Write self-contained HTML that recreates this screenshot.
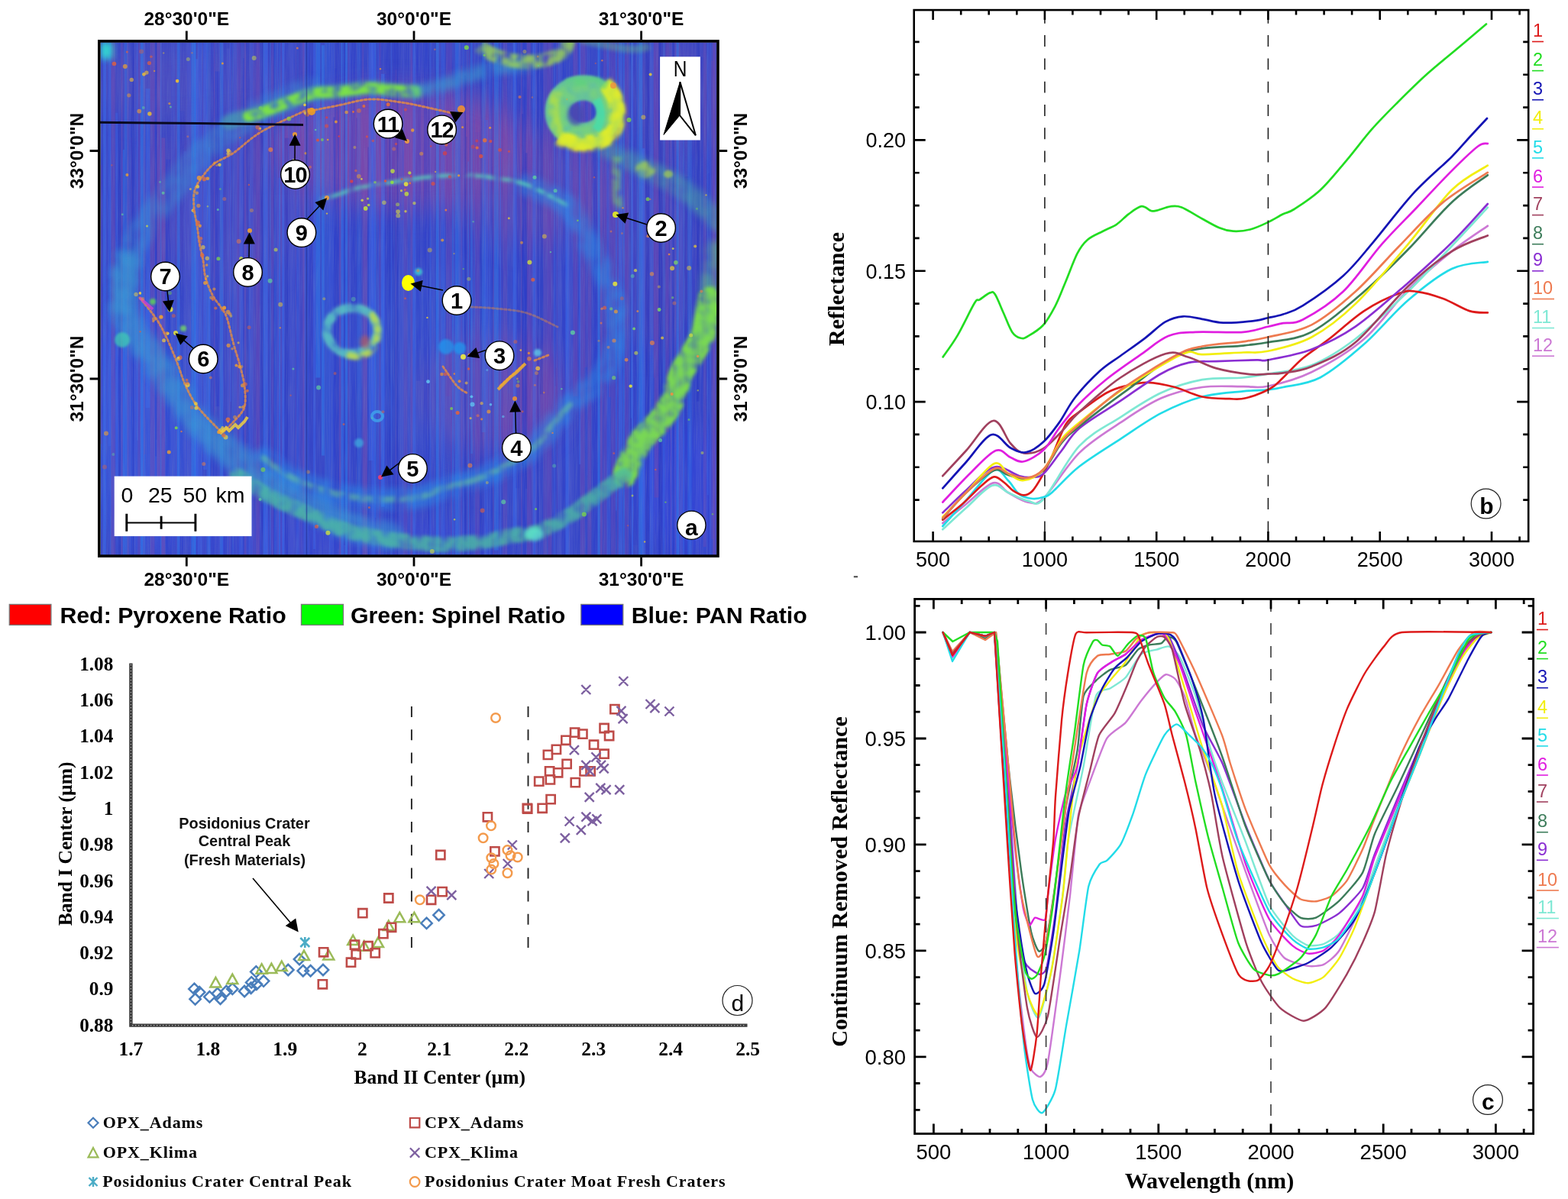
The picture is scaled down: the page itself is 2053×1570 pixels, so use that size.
<!DOCTYPE html>
<html><head><meta charset="utf-8"><title>Posidonius crater spectral analysis</title>
<style>html,body{margin:0;padding:0;background:#fff;}body{width:2053px;height:1570px;overflow:hidden;position:relative;}svg{position:absolute;left:0;top:0;display:block;}</style>
</head><body>
<svg width="2053" height="1570" viewBox="0 0 2053 1570">
<rect width="2053" height="1570" fill="#fff"/>
<rect x="1117.8" y="754.1" width="5.2" height="2.2" fill="#555"/>
<defs>
<clipPath id="mclip"><rect x="131.5" y="55.2" width="807.0" height="671.8"/></clipPath>
<filter id="bl1" filterUnits="userSpaceOnUse" x="100" y="30" width="880" height="730"><feGaussianBlur stdDeviation="0.7"/></filter>
<filter id="bl2" filterUnits="userSpaceOnUse" x="100" y="30" width="880" height="730"><feGaussianBlur stdDeviation="1.6"/></filter>
<filter id="bl3" filterUnits="userSpaceOnUse" x="100" y="30" width="880" height="730"><feGaussianBlur stdDeviation="2.4000000000000004"/></filter>
<filter id="bl5" filterUnits="userSpaceOnUse" x="100" y="30" width="880" height="730"><feGaussianBlur stdDeviation="4.0"/></filter>
<filter id="bl8" filterUnits="userSpaceOnUse" x="100" y="30" width="880" height="730"><feGaussianBlur stdDeviation="6.4"/></filter>
<filter id="bl14" filterUnits="userSpaceOnUse" x="100" y="30" width="880" height="730"><feGaussianBlur stdDeviation="11.200000000000001"/></filter>
<filter id="bl22" filterUnits="userSpaceOnUse" x="100" y="30" width="880" height="730"><feGaussianBlur stdDeviation="17.6"/></filter>
<filter id="noise" x="0" y="0" width="100%" height="100%"><feTurbulence type="fractalNoise" baseFrequency="0.9 0.02" numOctaves="2" seed="4"/><feColorMatrix type="matrix" values="0 0 0 0 0.15  0 0 0 0 0.2  0 0 0 0 0.55  0 0 0 1.1 -0.45"/></filter>
<filter id="speck" x="0" y="0" width="100%" height="100%"><feTurbulence type="fractalNoise" baseFrequency="0.35" numOctaves="1" seed="9"/><feColorMatrix type="matrix" values="0 0 0 0 0.5  0 0 0 0 0.5  0 0 0 0 1  0 0 0 1.6 -0.75"/></filter>
<filter id="blobby" filterUnits="userSpaceOnUse" x="100" y="30" width="880" height="730"><feTurbulence type="fractalNoise" baseFrequency="0.085" numOctaves="2" seed="3" result="n"/><feColorMatrix in="n" type="matrix" values="0 0 0 0 0  0 0 0 0 0  0 0 0 0 0  3.2 0 0 0 -0.85" result="m"/><feComposite in="SourceGraphic" in2="m" operator="in" result="t"/><feGaussianBlur in="t" stdDeviation="2.2"/></filter>
<filter id="blobby2" filterUnits="userSpaceOnUse" x="100" y="30" width="880" height="730"><feTurbulence type="fractalNoise" baseFrequency="0.06" numOctaves="3" seed="11" result="n"/><feColorMatrix in="n" type="matrix" values="0 0 0 0 0  0 0 0 0 0  0 0 0 0 0  3 0 0 0 -0.7" result="m"/><feComposite in="SourceGraphic" in2="m" operator="in" result="t"/><feGaussianBlur in="t" stdDeviation="4"/></filter>
</defs>
<g clip-path="url(#mclip)">
<rect x="131.5" y="55.2" width="807.0" height="671.8" fill="#3848c8"/>
<ellipse cx="525" cy="195" rx="175" ry="80" fill="#8e48a4" opacity="0.75" filter="url(#bl22)"/>
<ellipse cx="700" cy="250" rx="110" ry="70" fill="#7a4eaa" opacity="0.5" filter="url(#bl22)"/>
<ellipse cx="645" cy="515" rx="100" ry="75" fill="#8046a6" opacity="0.65" filter="url(#bl22)"/>
<ellipse cx="850" cy="330" rx="70" ry="130" fill="#6a4eb0" opacity="0.4" filter="url(#bl22)"/>
<ellipse cx="250" cy="110" rx="130" ry="50" fill="#6a58b8" opacity="0.35" filter="url(#bl22)"/>
<ellipse cx="300" cy="260" rx="110" ry="110" fill="#6e4eb0" opacity="0.35" filter="url(#bl22)"/>
<ellipse cx="185" cy="560" rx="70" ry="170" fill="#3a62e6" opacity="0.55" filter="url(#bl22)"/>
<ellipse cx="895" cy="640" rx="60" ry="90" fill="#3a4ee6" opacity="0.5" filter="url(#bl22)"/>
<ellipse cx="560" cy="470" rx="110" ry="120" fill="#3e62d6" opacity="0.35" filter="url(#bl22)"/>
<ellipse cx="300" cy="440" rx="60" ry="120" fill="#5a5ac0" opacity="0.3" filter="url(#bl22)"/>
<ellipse cx="880" cy="130" rx="70" ry="80" fill="#6a4eae" opacity="0.4" filter="url(#bl22)"/>
<ellipse cx="420" cy="705" rx="250" ry="30" fill="#3c4cd8" opacity="0.4" filter="url(#bl14)"/>
<g><path d="M132.5 215.9 V581.3" stroke="#6a44b4" stroke-width="2" opacity="0.3"/><path d="M134.7 55.2 V589.2" stroke="#2434c0" stroke-width="1.5" opacity="0.2"/><path d="M136.9 55.2 V727" stroke="#3a70f0" stroke-width="4" opacity="0.5"/><path d="M139.5 157.7 V622.2" stroke="#4a58d0" stroke-width="4" opacity="0.2"/><path d="M143.4 55.2 V584.2" stroke="#3a64e8" stroke-width="4" opacity="0.4"/><path d="M144.8 55.2 V727" stroke="#3a70f0" stroke-width="1" opacity="0.4"/><path d="M148.3 55.2 V727" stroke="#7a4cb0" stroke-width="6" opacity="0.4"/><path d="M150.7 55.2 V727" stroke="#2a3ccc" stroke-width="1.5" opacity="0.2"/><path d="M152.7 147.8 V641.5" stroke="#3a64e8" stroke-width="3" opacity="0.4"/><path d="M156.5 158 V727" stroke="#2434c0" stroke-width="3" opacity="0.5"/><path d="M159.5 55.2 V727" stroke="#7a4cb0" stroke-width="2" opacity="0.4"/><path d="M161.9 196.1 V727" stroke="#2c80f0" stroke-width="2" opacity="0.4"/><path d="M165.4 55.2 V727" stroke="#2c80f0" stroke-width="5" opacity="0.3"/><path d="M167.5 48.2 V727" stroke="#7a4cb0" stroke-width="3" opacity="0.3"/><path d="M168.8 55.2 V614.7" stroke="#4a58d0" stroke-width="1.5" opacity="0.3"/><path d="M170.3 126.6 V727" stroke="#4a58d0" stroke-width="1.5" opacity="0.5"/><path d="M172.1 180.1 V519.2" stroke="#6a44b4" stroke-width="1.5" opacity="0.2"/><path d="M173.4 55.2 V727" stroke="#2434c0" stroke-width="2" opacity="0.3"/><path d="M174.8 55.2 V727" stroke="#2434c0" stroke-width="1.5" opacity="0.4"/><path d="M177.7 55.2 V727" stroke="#4a58d0" stroke-width="4" opacity="0.3"/><path d="M180 55.2 V576.8" stroke="#3a70f0" stroke-width="1.5" opacity="0.5"/><path d="M182.2 55.2 V727" stroke="#6a44b4" stroke-width="4" opacity="0.4"/><path d="M183.6 111.6 V727" stroke="#4a58d0" stroke-width="1.5" opacity="0.3"/><path d="M186.9 55.2 V727" stroke="#2c80f0" stroke-width="6" opacity="0.5"/><path d="M188.3 55.2 V727" stroke="#7a4cb0" stroke-width="1" opacity="0.5"/><path d="M189.5 55.2 V595" stroke="#7a4cb0" stroke-width="1.5" opacity="0.3"/><path d="M193.7 115.9 V534" stroke="#3a70f0" stroke-width="6" opacity="0.4"/><path d="M199.5 55.2 V727" stroke="#7a4cb0" stroke-width="6" opacity="0.4"/><path d="M204.1 55.2 V597.6" stroke="#2a3ccc" stroke-width="1.5" opacity="0.5"/><path d="M205.1 55.2 V575.7" stroke="#2434c0" stroke-width="1" opacity="0.5"/><path d="M208.4 55.2 V670.3" stroke="#7a4cb0" stroke-width="6" opacity="0.5"/><path d="M210.6 55.2 V727" stroke="#2c80f0" stroke-width="1.5" opacity="0.4"/><path d="M213.8 180.5 V727" stroke="#7a4cb0" stroke-width="5" opacity="0.5"/><path d="M220 208.8 V727" stroke="#2a3ccc" stroke-width="6" opacity="0.4"/><path d="M226.5 55.2 V687.3" stroke="#4a58d0" stroke-width="5" opacity="0.4"/><path d="M230.9 55.2 V727" stroke="#6a44b4" stroke-width="1" opacity="0.4"/><path d="M233.5 55.2 V727" stroke="#2c80f0" stroke-width="4" opacity="0.4"/><path d="M234.7 55.2 V727" stroke="#3a70f0" stroke-width="1" opacity="0.4"/><path d="M238.4 145.5 V727" stroke="#2a3ccc" stroke-width="6" opacity="0.2"/><path d="M242.4 198 V727" stroke="#4a58d0" stroke-width="4" opacity="0.5"/><path d="M247.7 55.2 V689" stroke="#4a58d0" stroke-width="6" opacity="0.5"/><path d="M253.4 55.2 V727" stroke="#2c80f0" stroke-width="6" opacity="0.5"/><path d="M255.4 48.8 V727" stroke="#2c80f0" stroke-width="1.5" opacity="0.4"/><path d="M257.6 77.3 V702.6" stroke="#3a70f0" stroke-width="3" opacity="0.5"/><path d="M259.4 55.2 V727" stroke="#3a70f0" stroke-width="1" opacity="0.4"/><path d="M262.3 55.2 V727" stroke="#3a64e8" stroke-width="5" opacity="0.4"/><path d="M268.6 55.2 V615.1" stroke="#3a64e8" stroke-width="5" opacity="0.5"/><path d="M272.1 55.2 V727" stroke="#2c80f0" stroke-width="3" opacity="0.3"/><path d="M273.8 192.7 V727" stroke="#3a70f0" stroke-width="2" opacity="0.5"/><path d="M275 55.2 V727" stroke="#2c80f0" stroke-width="1.5" opacity="0.3"/><path d="M278.1 55.2 V727" stroke="#2a3ccc" stroke-width="5" opacity="0.3"/><path d="M280.6 55.2 V588.5" stroke="#7a4cb0" stroke-width="1.5" opacity="0.3"/><path d="M281.7 55.2 V727" stroke="#4a58d0" stroke-width="1" opacity="0.3"/><path d="M284.8 93.6 V532.3" stroke="#2a3ccc" stroke-width="6" opacity="0.5"/><path d="M287.3 55.2 V727" stroke="#4a58d0" stroke-width="1.5" opacity="0.5"/><path d="M289.9 47.9 V727" stroke="#2c80f0" stroke-width="4" opacity="0.4"/><path d="M292 55.2 V727" stroke="#3a64e8" stroke-width="1" opacity="0.5"/><path d="M295.1 55.2 V727" stroke="#2a3ccc" stroke-width="6" opacity="0.2"/><path d="M299.2 63.6 V727" stroke="#4a58d0" stroke-width="4" opacity="0.5"/><path d="M300.7 240.3 V727" stroke="#6a44b4" stroke-width="1" opacity="0.3"/><path d="M301.9 55.2 V526.1" stroke="#3a64e8" stroke-width="1.5" opacity="0.4"/><path d="M303.6 55.2 V727" stroke="#2434c0" stroke-width="1" opacity="0.2"/><path d="M304.8 55.2 V727" stroke="#2c80f0" stroke-width="1.5" opacity="0.2"/><path d="M308.5 55.2 V669.6" stroke="#4a58d0" stroke-width="6" opacity="0.5"/><path d="M312.5 55.2 V694.5" stroke="#6a44b4" stroke-width="5" opacity="0.3"/><path d="M315.7 181.6 V727" stroke="#3a64e8" stroke-width="5" opacity="0.4"/><path d="M319 76 V726.1" stroke="#2a3ccc" stroke-width="2" opacity="0.4"/><path d="M320.7 55.2 V727" stroke="#7a4cb0" stroke-width="2" opacity="0.3"/><path d="M321.9 55.2 V727" stroke="#7a4cb0" stroke-width="1" opacity="0.3"/><path d="M324.1 55.2 V580.3" stroke="#2434c0" stroke-width="4" opacity="0.2"/><path d="M326.6 245.9 V727" stroke="#3a64e8" stroke-width="2" opacity="0.4"/><path d="M329.5 55.2 V727" stroke="#4a58d0" stroke-width="5" opacity="0.5"/><path d="M333 55.2 V727" stroke="#6a44b4" stroke-width="4" opacity="0.2"/><path d="M337.7 55.2 V727" stroke="#6a44b4" stroke-width="5" opacity="0.5"/><path d="M341.5 175.4 V727" stroke="#2a3ccc" stroke-width="1" opacity="0.2"/><path d="M343.4 55.2 V727" stroke="#2434c0" stroke-width="3" opacity="0.4"/><path d="M345.2 55.2 V727" stroke="#2c80f0" stroke-width="1" opacity="0.5"/><path d="M348.2 55.2 V727" stroke="#3a70f0" stroke-width="5" opacity="0.5"/><path d="M352.4 55.2 V727" stroke="#2a3ccc" stroke-width="1.5" opacity="0.3"/><path d="M354 45.5 V727" stroke="#2c80f0" stroke-width="1" opacity="0.5"/><path d="M356.2 55.2 V727" stroke="#6a44b4" stroke-width="4" opacity="0.3"/><path d="M359.1 55.2 V727" stroke="#2434c0" stroke-width="1.5" opacity="0.4"/><path d="M360.1 55.2 V727" stroke="#2c80f0" stroke-width="1.5" opacity="0.3"/><path d="M361.2 139.2 V707.9" stroke="#2a3ccc" stroke-width="1" opacity="0.3"/><path d="M363.2 55.2 V727" stroke="#3a64e8" stroke-width="3" opacity="0.3"/><path d="M364.1 114.3 V727" stroke="#6a44b4" stroke-width="1" opacity="0.5"/><path d="M365.7 232.7 V727" stroke="#3a70f0" stroke-width="2" opacity="0.4"/><path d="M366.4 55.2 V727" stroke="#2c80f0" stroke-width="1" opacity="0.4"/><path d="M368.3 55.2 V727" stroke="#7a4cb0" stroke-width="3" opacity="0.2"/><path d="M370.8 37.8 V727" stroke="#3a70f0" stroke-width="3" opacity="0.5"/><path d="M372.1 55.2 V495.6" stroke="#4a58d0" stroke-width="1" opacity="0.3"/><path d="M375.8 180.8 V727" stroke="#2434c0" stroke-width="6" opacity="0.3"/><path d="M378 117.3 V727" stroke="#4a58d0" stroke-width="2" opacity="0.4"/><path d="M382.4 55.2 V727" stroke="#4a58d0" stroke-width="6" opacity="0.5"/><path d="M386.6 55.2 V727" stroke="#4a58d0" stroke-width="1" opacity="0.4"/><path d="M387.4 55.2 V663.1" stroke="#6a44b4" stroke-width="1" opacity="0.3"/><path d="M390.5 141.5 V727" stroke="#3a64e8" stroke-width="5" opacity="0.3"/><path d="M393.9 55.2 V727" stroke="#6a44b4" stroke-width="5" opacity="0.2"/><path d="M397.8 55.2 V678.9" stroke="#7a4cb0" stroke-width="3" opacity="0.5"/><path d="M399.3 55.2 V727" stroke="#3a70f0" stroke-width="2" opacity="0.3"/><path d="M400.3 55.2 V659.4" stroke="#4a58d0" stroke-width="1" opacity="0.3"/><path d="M402.4 55.2 V727" stroke="#3a64e8" stroke-width="3" opacity="0.4"/><path d="M406.8 55.2 V727" stroke="#2a3ccc" stroke-width="6" opacity="0.2"/><path d="M411.6 55.2 V718.9" stroke="#3a64e8" stroke-width="3" opacity="0.5"/><path d="M416.4 55.2 V494.4" stroke="#2c80f0" stroke-width="6" opacity="0.5"/><path d="M422.9 59.2 V596.4" stroke="#2c80f0" stroke-width="4" opacity="0.5"/><path d="M428.2 55.2 V695.6" stroke="#2c80f0" stroke-width="6" opacity="0.2"/><path d="M431.7 55.2 V727" stroke="#3a64e8" stroke-width="1" opacity="0.5"/><path d="M435.1 55.2 V727" stroke="#3a70f0" stroke-width="6" opacity="0.2"/><path d="M437.5 153.4 V727" stroke="#2a3ccc" stroke-width="2" opacity="0.5"/><path d="M439.1 89.6 V727" stroke="#2a3ccc" stroke-width="2" opacity="0.4"/><path d="M441.3 55.2 V727" stroke="#2434c0" stroke-width="2" opacity="0.2"/><path d="M443.1 55.2 V718.5" stroke="#2a3ccc" stroke-width="2" opacity="0.4"/><path d="M445.3 210.6 V727" stroke="#7a4cb0" stroke-width="3" opacity="0.4"/><path d="M447.4 55.2 V727" stroke="#2c80f0" stroke-width="1.5" opacity="0.5"/><path d="M448.5 244.6 V727" stroke="#3a64e8" stroke-width="1.5" opacity="0.5"/><path d="M449.6 55.2 V727" stroke="#2c80f0" stroke-width="1.5" opacity="0.3"/><path d="M451.4 55.2 V714" stroke="#2434c0" stroke-width="3" opacity="0.3"/><path d="M453.4 55.2 V727" stroke="#2c80f0" stroke-width="3" opacity="0.5"/><path d="M456.5 55.2 V727" stroke="#7a4cb0" stroke-width="1.5" opacity="0.3"/><path d="M458.2 55.2 V727" stroke="#4a58d0" stroke-width="2" opacity="0.5"/><path d="M459 55.2 V727" stroke="#3a64e8" stroke-width="1" opacity="0.2"/><path d="M462.5 55.2 V727" stroke="#2a3ccc" stroke-width="6" opacity="0.3"/><path d="M467 154.3 V727" stroke="#2434c0" stroke-width="1" opacity="0.4"/><path d="M469.8 55.2 V727" stroke="#2c80f0" stroke-width="5" opacity="0.2"/><path d="M473.5 237.6 V540.2" stroke="#4a58d0" stroke-width="1" opacity="0.2"/><path d="M475.2 55.2 V727" stroke="#7a4cb0" stroke-width="2" opacity="0.3"/><path d="M478.3 193.9 V727" stroke="#7a4cb0" stroke-width="5" opacity="0.5"/><path d="M482.1 192.6 V727" stroke="#2434c0" stroke-width="1" opacity="0.5"/><path d="M485.7 55.2 V602.9" stroke="#3a64e8" stroke-width="6" opacity="0.5"/><path d="M488.9 55.2 V727" stroke="#3a64e8" stroke-width="5" opacity="0.5"/><path d="M491.5 55.2 V677.7" stroke="#2c80f0" stroke-width="2" opacity="0.3"/><path d="M493.5 156.8 V727" stroke="#4a58d0" stroke-width="1.5" opacity="0.2"/><path d="M495.2 56.4 V727" stroke="#3a70f0" stroke-width="1" opacity="0.3"/><path d="M497.3 55.2 V727" stroke="#6a44b4" stroke-width="3" opacity="0.3"/><path d="M501.5 96.7 V663.5" stroke="#3a70f0" stroke-width="5" opacity="0.5"/><path d="M504.4 97.1 V727" stroke="#2a3ccc" stroke-width="3" opacity="0.3"/><path d="M505.6 151 V727" stroke="#4a58d0" stroke-width="1" opacity="0.3"/><path d="M507.3 55.2 V727" stroke="#2434c0" stroke-width="3" opacity="0.2"/><path d="M510.4 46.3 V727" stroke="#2434c0" stroke-width="2" opacity="0.5"/><path d="M512.5 55.2 V727" stroke="#3a70f0" stroke-width="1.5" opacity="0.3"/><path d="M515.9 55.2 V727" stroke="#2434c0" stroke-width="6" opacity="0.2"/><path d="M518.4 91.3 V727" stroke="#7a4cb0" stroke-width="2" opacity="0.2"/><path d="M520.3 55.2 V727" stroke="#2434c0" stroke-width="1.5" opacity="0.5"/><path d="M521.6 55.2 V727" stroke="#2a3ccc" stroke-width="1" opacity="0.2"/><path d="M525 152.7 V727" stroke="#4a58d0" stroke-width="6" opacity="0.4"/><path d="M528.2 55.2 V727" stroke="#4a58d0" stroke-width="2" opacity="0.5"/><path d="M531 203.9 V727" stroke="#7a4cb0" stroke-width="5" opacity="0.3"/><path d="M535.3 233.6 V727" stroke="#4a58d0" stroke-width="3" opacity="0.3"/><path d="M538.8 38.5 V727" stroke="#7a4cb0" stroke-width="3" opacity="0.4"/><path d="M541.9 55.2 V727" stroke="#3a70f0" stroke-width="3" opacity="0.4"/><path d="M543.6 50 V727" stroke="#3a64e8" stroke-width="2" opacity="0.3"/><path d="M547.8 55.2 V498.8" stroke="#2a3ccc" stroke-width="6" opacity="0.3"/><path d="M551.8 55.2 V727" stroke="#4a58d0" stroke-width="4" opacity="0.2"/><path d="M557.2 55.2 V608.8" stroke="#2a3ccc" stroke-width="5" opacity="0.4"/><path d="M560.1 114.2 V484.3" stroke="#4a58d0" stroke-width="1" opacity="0.5"/><path d="M561.6 55.2 V727" stroke="#2434c0" stroke-width="1.5" opacity="0.5"/><path d="M563.4 55.2 V727" stroke="#3a70f0" stroke-width="2" opacity="0.3"/><path d="M567.2 120.8 V727" stroke="#4a58d0" stroke-width="5" opacity="0.3"/><path d="M570.2 55.2 V727" stroke="#2434c0" stroke-width="1.5" opacity="0.2"/><path d="M572.8 55.2 V727" stroke="#2c80f0" stroke-width="4" opacity="0.5"/><path d="M574.4 55.2 V727" stroke="#4a58d0" stroke-width="2" opacity="0.3"/><path d="M576 55.2 V727" stroke="#6a44b4" stroke-width="1" opacity="0.2"/><path d="M577 55.2 V710.4" stroke="#4a58d0" stroke-width="1" opacity="0.4"/><path d="M580 55.2 V727" stroke="#3a70f0" stroke-width="5" opacity="0.3"/><path d="M586.9 55.2 V518.7" stroke="#6a44b4" stroke-width="6" opacity="0.4"/><path d="M591 55.2 V727" stroke="#6a44b4" stroke-width="2" opacity="0.3"/><path d="M592.9 146.5 V727" stroke="#2c80f0" stroke-width="2" opacity="0.3"/><path d="M593.9 55.2 V727" stroke="#4a58d0" stroke-width="1.5" opacity="0.3"/><path d="M595.7 55.2 V727" stroke="#3a64e8" stroke-width="1.5" opacity="0.2"/><path d="M599.2 55.2 V727" stroke="#2c80f0" stroke-width="6" opacity="0.4"/><path d="M602.3 55.2 V727" stroke="#4a58d0" stroke-width="4" opacity="0.5"/><path d="M604.5 85.8 V727" stroke="#7a4cb0" stroke-width="1.5" opacity="0.3"/><path d="M606.6 55.2 V727" stroke="#3a64e8" stroke-width="2" opacity="0.3"/><path d="M609.1 99.2 V727" stroke="#2434c0" stroke-width="2" opacity="0.5"/><path d="M610.9 178.9 V726.3" stroke="#2434c0" stroke-width="2" opacity="0.2"/><path d="M612.1 55.2 V727" stroke="#7a4cb0" stroke-width="1" opacity="0.4"/><path d="M613.3 211.5 V727" stroke="#2c80f0" stroke-width="2" opacity="0.3"/><path d="M614.6 55.2 V727" stroke="#6a44b4" stroke-width="1" opacity="0.5"/><path d="M615.4 55.2 V727" stroke="#2434c0" stroke-width="1" opacity="0.4"/><path d="M617.5 55.2 V594.1" stroke="#2c80f0" stroke-width="3" opacity="0.3"/><path d="M619.4 55.2 V589.3" stroke="#6a44b4" stroke-width="1.5" opacity="0.2"/><path d="M621.3 55.2 V727" stroke="#4a58d0" stroke-width="1.5" opacity="0.3"/><path d="M625.1 172.9 V727" stroke="#6a44b4" stroke-width="6" opacity="0.4"/><path d="M630.2 55.2 V727" stroke="#2434c0" stroke-width="3" opacity="0.3"/><path d="M633.2 55.2 V566" stroke="#2c80f0" stroke-width="5" opacity="0.3"/><path d="M636.6 157 V727" stroke="#3a64e8" stroke-width="5" opacity="0.4"/><path d="M641.9 55.2 V727" stroke="#3a64e8" stroke-width="4" opacity="0.3"/><path d="M644.5 55.2 V727" stroke="#2434c0" stroke-width="4" opacity="0.3"/><path d="M646.2 55.2 V727" stroke="#7a4cb0" stroke-width="1.5" opacity="0.3"/><path d="M649.8 55.2 V720.4" stroke="#2c80f0" stroke-width="6" opacity="0.4"/><path d="M655.2 55.2 V727" stroke="#3a64e8" stroke-width="1.5" opacity="0.5"/><path d="M656.6 172 V482.6" stroke="#6a44b4" stroke-width="1.5" opacity="0.2"/><path d="M658 55.2 V710" stroke="#2434c0" stroke-width="1" opacity="0.2"/><path d="M661.2 55.2 V727" stroke="#7a4cb0" stroke-width="6" opacity="0.3"/><path d="M667.6 59.8 V515.1" stroke="#4a58d0" stroke-width="6" opacity="0.2"/><path d="M674.1 55.2 V702" stroke="#3a70f0" stroke-width="5" opacity="0.5"/><path d="M677.9 55.2 V639.3" stroke="#2a3ccc" stroke-width="6" opacity="0.3"/><path d="M682.9 55.2 V727" stroke="#7a4cb0" stroke-width="1" opacity="0.5"/><path d="M684.3 149.3 V609.8" stroke="#2434c0" stroke-width="2" opacity="0.5"/><path d="M686.6 55.2 V727" stroke="#2a3ccc" stroke-width="4" opacity="0.5"/><path d="M689.3 200.3 V640" stroke="#2434c0" stroke-width="3" opacity="0.4"/><path d="M692.3 55.2 V727" stroke="#6a44b4" stroke-width="5" opacity="0.5"/><path d="M696.6 189.1 V727" stroke="#6a44b4" stroke-width="4" opacity="0.3"/><path d="M699.8 55.2 V727" stroke="#3a70f0" stroke-width="5" opacity="0.4"/><path d="M701.7 55.2 V727" stroke="#7a4cb0" stroke-width="2" opacity="0.2"/><path d="M704.4 55.2 V727" stroke="#2434c0" stroke-width="3" opacity="0.3"/><path d="M706.6 55.2 V727" stroke="#4a58d0" stroke-width="1.5" opacity="0.5"/><path d="M708.9 55.2 V516.2" stroke="#2434c0" stroke-width="4" opacity="0.3"/><path d="M713.7 55.2 V727" stroke="#7a4cb0" stroke-width="5" opacity="0.3"/><path d="M716.9 55.2 V679.1" stroke="#7a4cb0" stroke-width="1.5" opacity="0.4"/><path d="M719.9 55.2 V727" stroke="#6a44b4" stroke-width="5" opacity="0.5"/><path d="M723.5 55.2 V488.3" stroke="#6a44b4" stroke-width="2" opacity="0.3"/><path d="M725.9 67.8 V727" stroke="#3a70f0" stroke-width="1.5" opacity="0.3"/><path d="M727.3 55.2 V505.7" stroke="#2a3ccc" stroke-width="2" opacity="0.2"/><path d="M728.7 55.2 V481.8" stroke="#4a58d0" stroke-width="1" opacity="0.5"/><path d="M729.5 55.2 V666.4" stroke="#6a44b4" stroke-width="1" opacity="0.3"/><path d="M732.7 55.2 V727" stroke="#4a58d0" stroke-width="5" opacity="0.5"/><path d="M738.8 55.2 V727" stroke="#2a3ccc" stroke-width="5" opacity="0.4"/><path d="M742.9 123.2 V727" stroke="#3a70f0" stroke-width="5" opacity="0.5"/><path d="M746.9 224.1 V727" stroke="#4a58d0" stroke-width="6" opacity="0.4"/><path d="M753.3 55.2 V519" stroke="#6a44b4" stroke-width="6" opacity="0.5"/><path d="M758.2 192.8 V727" stroke="#2434c0" stroke-width="1" opacity="0.3"/><path d="M759.4 55.2 V608.1" stroke="#3a70f0" stroke-width="2" opacity="0.5"/><path d="M762.7 55.2 V727" stroke="#7a4cb0" stroke-width="6" opacity="0.4"/><path d="M766.6 55.2 V480.9" stroke="#6a44b4" stroke-width="5" opacity="0.3"/><path d="M768.9 55.2 V622.4" stroke="#3a64e8" stroke-width="1" opacity="0.3"/><path d="M771.8 102 V727" stroke="#7a4cb0" stroke-width="5" opacity="0.4"/><path d="M776.4 239.7 V527.4" stroke="#4a58d0" stroke-width="1.5" opacity="0.4"/><path d="M779.2 181.7 V727" stroke="#2a3ccc" stroke-width="5" opacity="0.5"/><path d="M784 55.2 V727" stroke="#2c80f0" stroke-width="3" opacity="0.5"/><path d="M787.4 190.1 V727" stroke="#7a4cb0" stroke-width="3" opacity="0.5"/><path d="M792.3 55.2 V727" stroke="#6a44b4" stroke-width="5" opacity="0.4"/><path d="M796.6 55.2 V727" stroke="#3a64e8" stroke-width="5" opacity="0.3"/><path d="M798.4 55.2 V520" stroke="#6a44b4" stroke-width="2" opacity="0.5"/><path d="M802.8 55.2 V727" stroke="#6a44b4" stroke-width="6" opacity="0.4"/><path d="M806.9 57.5 V668.6" stroke="#3a70f0" stroke-width="1.5" opacity="0.4"/><path d="M808.9 55.2 V727" stroke="#6a44b4" stroke-width="2" opacity="0.3"/><path d="M812.4 55.2 V727" stroke="#3a70f0" stroke-width="5" opacity="0.4"/><path d="M816.6 55.2 V727" stroke="#2c80f0" stroke-width="1.5" opacity="0.4"/><path d="M817.7 65.9 V727" stroke="#3a70f0" stroke-width="1" opacity="0.3"/><path d="M819.4 71.4 V727" stroke="#6a44b4" stroke-width="3" opacity="0.4"/><path d="M822 55.2 V727" stroke="#7a4cb0" stroke-width="1.5" opacity="0.4"/><path d="M824 55.2 V567.7" stroke="#4a58d0" stroke-width="2" opacity="0.3"/><path d="M825.6 55.2 V727" stroke="#2434c0" stroke-width="1" opacity="0.4"/><path d="M826.4 55.2 V547.5" stroke="#2c80f0" stroke-width="1" opacity="0.4"/><path d="M828 55.2 V727" stroke="#3a70f0" stroke-width="2" opacity="0.5"/><path d="M831.9 55.2 V713.8" stroke="#2a3ccc" stroke-width="6" opacity="0.3"/><path d="M834.7 55.2 V600.4" stroke="#2c80f0" stroke-width="2" opacity="0.3"/><path d="M838.8 55.2 V727" stroke="#2c80f0" stroke-width="5" opacity="0.5"/><path d="M842.3 194.2 V727" stroke="#3a70f0" stroke-width="4" opacity="0.5"/><path d="M844.8 77 V727" stroke="#4a58d0" stroke-width="1" opacity="0.3"/><path d="M847.8 55.2 V727" stroke="#2434c0" stroke-width="5" opacity="0.5"/><path d="M852.9 55.2 V727" stroke="#3a70f0" stroke-width="5" opacity="0.3"/><path d="M856.6 55.2 V494.4" stroke="#6a44b4" stroke-width="1" opacity="0.5"/><path d="M859.7 55.2 V651.5" stroke="#6a44b4" stroke-width="6" opacity="0.5"/><path d="M863.1 55.2 V727" stroke="#2434c0" stroke-width="2" opacity="0.4"/><path d="M865.4 55.2 V727" stroke="#2434c0" stroke-width="4" opacity="0.5"/><path d="M869.2 55.2 V727" stroke="#2c80f0" stroke-width="3" opacity="0.2"/><path d="M874.1 55.2 V565.9" stroke="#6a44b4" stroke-width="5" opacity="0.4"/><path d="M876.1 182.5 V727" stroke="#2434c0" stroke-width="1.5" opacity="0.3"/><path d="M877.9 193.5 V543.6" stroke="#3a70f0" stroke-width="1.5" opacity="0.2"/><path d="M878.7 55.2 V727" stroke="#7a4cb0" stroke-width="1" opacity="0.5"/><path d="M879.9 55.2 V727" stroke="#3a64e8" stroke-width="1" opacity="0.4"/><path d="M881.6 38.4 V727" stroke="#2434c0" stroke-width="2" opacity="0.5"/><path d="M883.5 55.2 V511.8" stroke="#4a58d0" stroke-width="1" opacity="0.3"/><path d="M884.4 55.2 V727" stroke="#7a4cb0" stroke-width="1" opacity="0.3"/><path d="M885.7 55.2 V727" stroke="#3a70f0" stroke-width="1.5" opacity="0.3"/><path d="M887.8 55.2 V727" stroke="#2c80f0" stroke-width="3" opacity="0.5"/><path d="M889.2 55.2 V689.2" stroke="#7a4cb0" stroke-width="1" opacity="0.5"/><path d="M891.9 120.4 V727" stroke="#4a58d0" stroke-width="4" opacity="0.5"/><path d="M895.2 93.1 V727" stroke="#2c80f0" stroke-width="1.5" opacity="0.3"/><path d="M899 231.1 V727" stroke="#2434c0" stroke-width="6" opacity="0.3"/><path d="M903.2 157 V727" stroke="#2c80f0" stroke-width="6" opacity="0.3"/><path d="M907.6 122.2 V727" stroke="#2a3ccc" stroke-width="6" opacity="0.3"/><path d="M914.1 55.2 V525.4" stroke="#2434c0" stroke-width="4" opacity="0.5"/><path d="M917.4 55.2 V727" stroke="#4a58d0" stroke-width="1.5" opacity="0.4"/><path d="M919.6 75 V727" stroke="#2a3ccc" stroke-width="3" opacity="0.3"/><path d="M922.7 55.2 V715.9" stroke="#7a4cb0" stroke-width="4" opacity="0.3"/><path d="M926.9 55.2 V648.1" stroke="#3a70f0" stroke-width="2" opacity="0.3"/><path d="M928.1 226.8 V727" stroke="#2434c0" stroke-width="2" opacity="0.2"/><path d="M929.9 56.6 V727" stroke="#3a64e8" stroke-width="1.5" opacity="0.5"/><path d="M932.7 79.4 V706.1" stroke="#6a44b4" stroke-width="4" opacity="0.3"/><path d="M935.2 55.2 V727" stroke="#7a4cb0" stroke-width="4" opacity="0.5"/><path d="M938.7 55.2 V647.3" stroke="#4a58d0" stroke-width="1" opacity="0.5"/></g>
<rect x="131.5" y="55.2" width="807.0" height="671.8" filter="url(#noise)" opacity="0.6"/>
<rect x="131.5" y="55.2" width="16" height="22" fill="#30e0d0" opacity="0.9" filter="url(#bl5)"/>
<path d="M404 118 C392.5 123.2 354 139 335 149 C316 159 303.3 167.5 290 178 C276.7 188.5 266.3 199.7 255 212 C243.7 224.3 232.8 238.2 222 252 C211.2 265.8 199.3 279.5 190 295 C180.7 310.5 171 328.3 166 345 C161 361.7 161 386.7 160 395" fill="none" stroke="#3a9ad8" stroke-width="34" opacity="0.4" filter="url(#blobby2)" stroke-linecap="round"/>
<path d="M166 345 C165 353.3 159 380.8 160 395 C161 409.2 165.7 418.2 172 430 C178.3 441.8 189 453.3 198 466 C207 478.7 217 492.7 226 506 C235 519.3 243 534.5 252 546 C261 557.5 270.3 566 280 575 C289.7 584 298.3 590.8 310 600 C321.7 609.2 335 620.3 350 630 C365 639.7 382.5 648.3 400 658 C417.5 667.7 436.7 680.7 455 688 C473.3 695.3 500.8 699.7 510 702" fill="none" stroke="#3a9ad8" stroke-width="40" opacity="0.48" filter="url(#blobby2)" stroke-linecap="round"/>
<path d="M166 345 C165 353.3 159 380.8 160 395 C161 409.2 165.7 418.2 172 430 C178.3 441.8 189 453.3 198 466 C207 478.7 217 492.7 226 506 C235 519.3 243 534.5 252 546 C261 557.5 270.3 566 280 575 C289.7 584 298.3 590.8 310 600 C321.7 609.2 335 620.3 350 630 C365 639.7 382.5 648.3 400 658 C417.5 667.7 436.7 680.7 455 688 C473.3 695.3 500.8 699.7 510 702" fill="none" stroke="#40a8d0" stroke-width="26" opacity="0.28" filter="url(#bl5)" stroke-linecap="round"/>
<path d="M690 242 C698.5 246.3 728.2 256.5 741 268 C753.8 279.5 759 296.7 767 311 C775 325.3 782.5 339.2 789 354 C795.5 368.8 803.3 384 806 400 C808.7 416 807.7 435 805 450 C802.3 465 795.8 480 790 490 C784.2 500 777.3 503.3 770 510 C762.7 516.7 754 522 746 530 C738 538 729.7 548.8 722 558 C714.3 567.2 710 576.3 700 585 C690 593.7 675.8 602.5 662 610 C648.2 617.5 631 625 617 630 C603 635 590.3 636.3 578 640 C565.7 643.7 561 650 543 652 C525 654 494.3 655.2 470 652 C445.7 648.8 417.8 641.7 397 633 C376.2 624.3 353.7 605.5 345 600" fill="none" stroke="#2a94ea" stroke-width="28" opacity="0.5" filter="url(#blobby2)" stroke-linecap="round"/>
<path d="M420 262 C428.3 259.3 453.8 250 470 246 C486.2 242 502 240.3 517 238 C532 235.7 545.7 233.5 560 232 C574.3 230.5 588.3 228.8 603 229 C617.7 229.2 633.5 230.8 648 233 C662.5 235.2 674.5 236.2 690 242 C705.5 247.8 732.5 263.7 741 268" fill="none" stroke="#58d8b8" stroke-width="5" opacity="0.8" filter="url(#blobby)" stroke-linecap="round"/>
<path d="M746 530 C742 534.7 729.7 548.8 722 558 C714.3 567.2 710 576.3 700 585 C690 593.7 675.8 602.5 662 610 C648.2 617.5 631 625 617 630 C603 635 590.3 636.3 578 640 C565.7 643.7 561 650 543 652 C525 654 494.3 655.2 470 652 C445.7 648.8 417.8 641.7 397 633 C376.2 624.3 353.7 605.5 345 600" fill="none" stroke="#70d890" stroke-width="8" opacity="0.45" filter="url(#blobby)" stroke-linecap="round"/>
<path d="M790 190 C794.2 192.5 806.7 200.3 815 205 C823.3 209.7 832.2 214 840 218 C847.8 222 854.7 225.2 862 229 C869.3 232.8 876.8 236.7 884 241 C891.2 245.3 898.2 249.3 905 255 C911.8 260.7 919.2 269.2 925 275 C930.8 280.8 937.5 287.5 940 290" fill="none" stroke="#50c0a0" stroke-width="26" opacity="0.42" filter="url(#blobby2)" stroke-linecap="round"/>
<path d="M808 205 C806 230 806 250 810 275" fill="none" stroke="#80d060" stroke-width="12" opacity="0.5" filter="url(#blobby)"/>
<path d="M936 330 C935.7 335 935 349.8 934 360 C933 370.2 932.2 378.3 930 391 C927.8 403.7 922.5 428.5 921 436" fill="none" stroke="#60c880" stroke-width="30" opacity="0.55" filter="url(#blobby2)" stroke-linecap="round"/>
<path d="M930 391 C928.5 398.5 925 423.7 921 436 C917 448.3 910.8 456.2 906 465 C901.2 473.8 896.3 479 892 489 C887.7 499 885 514.3 880 525 C875 535.7 868.7 544.5 862 553 C855.3 561.5 845.8 568.2 840 576 C834.2 583.8 830.7 592.3 827 600 C823.3 607.7 819.5 618.3 818 622" fill="none" stroke="#7ee04a" stroke-width="32" opacity="0.95" filter="url(#blobby)" stroke-linecap="round"/>
<path d="M930 391 C928.5 398.5 925 423.7 921 436 C917 448.3 910.8 456.2 906 465 C901.2 473.8 896.3 479 892 489 C887.7 499 885 514.3 880 525 C875 535.7 868.7 544.5 862 553 C855.3 561.5 845.8 568.2 840 576 C834.2 583.8 830.7 592.3 827 600 C823.3 607.7 819.5 618.3 818 622" fill="none" stroke="#78d858" stroke-width="22" opacity="0.55" filter="url(#bl3)" stroke-linecap="round"/>
<ellipse cx="845" cy="222" rx="13" ry="11" fill="#b0e040" opacity="0.7" filter="url(#blobby)"/>
<ellipse cx="875" cy="228" rx="6" ry="5" fill="#b0e040" opacity="0.6" filter="url(#bl2)"/>
<path d="M818 622 C815.3 623.8 807.8 628.7 802 633 C796.2 637.3 789.2 643.3 783 648 C776.8 652.7 771.2 656.5 765 661 C758.8 665.5 753.8 670.2 746 675 C738.2 679.8 725.7 686.2 718 690 C710.3 693.8 707.7 696.2 700 698 C692.3 699.8 681.3 699.5 672 701 C662.7 702.5 653.3 705.3 644 707 C634.7 708.7 626.8 710 616 711 C605.2 712 591.2 713.2 579 713 C566.8 712.8 557 711.5 543 710 C529 708.5 511.2 707 495 704 C478.8 701 462.3 697.7 446 692 C429.7 686.3 413.2 677.3 397 670 C380.8 662.7 363.5 656 349 648 C334.5 640 316.5 626.3 310 622" fill="none" stroke="#50c0a0" stroke-width="20" opacity="0.7" filter="url(#blobby)" stroke-linecap="round"/>
<path d="M818 622 C815.3 623.8 807.8 628.7 802 633 C796.2 637.3 789.2 643.3 783 648 C776.8 652.7 771.2 656.5 765 661 C758.8 665.5 753.8 670.2 746 675 C738.2 679.8 725.7 686.2 718 690 C710.3 693.8 707.7 696.2 700 698 C692.3 699.8 681.3 699.5 672 701 C662.7 702.5 653.3 705.3 644 707 C634.7 708.7 626.8 710 616 711 C605.2 712 591.2 713.2 579 713 C566.8 712.8 557 711.5 543 710 C529 708.5 511.2 707 495 704 C478.8 701 462.3 697.7 446 692 C429.7 686.3 413.2 677.3 397 670 C380.8 662.7 363.5 656 349 648 C334.5 640 316.5 626.3 310 622" fill="none" stroke="#48b0a8" stroke-width="14" opacity="0.4" filter="url(#bl3)" stroke-linecap="round"/>
<ellipse cx="699" cy="699" rx="12" ry="9" fill="#60f0d0" opacity="0.7" filter="url(#bl3)"/>
<path d="M300 160 C304.2 158.7 318.2 154 325 152 C331.8 150 331.5 151.3 341 148 C350.5 144.7 370.2 136.3 382 132 C393.8 127.7 401.8 124 412 122 C422.2 120 431 121.2 443 120 C455 118.8 472 115.3 484 115 C496 114.7 504.8 117.2 515 118 C525.2 118.8 540 119.7 545 120" fill="none" stroke="#48b0a0" stroke-width="20" opacity="0.45" filter="url(#bl3)" stroke-linecap="round"/>
<path d="M325 152 C327.7 151.3 331.5 151.3 341 148 C350.5 144.7 370.2 136.3 382 132 C393.8 127.7 401.8 124 412 122 C422.2 120 431 121.2 443 120 C455 118.8 472 115.3 484 115 C496 114.7 504.8 117.2 515 118 C525.2 118.8 540 119.7 545 120" fill="none" stroke="#7ae048" stroke-width="14" opacity="1" filter="url(#blobby)" stroke-linecap="round"/>
<path d="M545 120 C550.2 118.8 565.7 116.2 576 113 C586.3 109.8 595 105 607 101 C619 97 634.2 91.7 648 89 C661.8 86.3 683 85.7 690 85" fill="none" stroke="#3aa0d0" stroke-width="18" opacity="0.6" filter="url(#blobby2)" stroke-linecap="round"/>
<path d="M628 60 C650 80 700 90 735 70 C742 64 744 58 744 52" fill="none" stroke="#98d058" stroke-width="18" opacity="0.85" filter="url(#blobby)"/>
<path d="M760 52 C800 60 830 70 850 60" fill="none" stroke="#70c880" stroke-width="10" opacity="0.35" filter="url(#bl3)"/>
<ellipse cx="764" cy="146" rx="34" ry="31" fill="none" stroke="#68cc98" stroke-width="33" opacity="0.92" filter="url(#bl2)"/>
<ellipse cx="764" cy="146" rx="34" ry="31" fill="none" stroke="#80d870" stroke-width="24" opacity="0.6" filter="url(#blobby)"/>
<path d="M792 110 C812 126 814 164 798 178 C782 190 752 192 732 180" fill="none" stroke="#eaf020" stroke-width="21" opacity="0.95" filter="url(#blobby)"/>
<path d="M792 110 C812 126 814 164 798 178 C782 190 752 192 732 180" fill="none" stroke="#d8ea30" stroke-width="14" opacity="0.65" filter="url(#bl2)"/>
<path d="M730 120 C722 138 724 162 734 178" fill="none" stroke="#b8e040" stroke-width="14" opacity="0.75" filter="url(#blobby)"/>
<path d="M742 110 C760 104 780 104 795 112" fill="none" stroke="#58d080" stroke-width="12" opacity="0.7" filter="url(#blobby)"/>
<path d="M781 130 C789 145 788 160 780 170" fill="none" stroke="#40e0b0" stroke-width="11" opacity="0.7" filter="url(#bl2)"/>
<ellipse cx="754" cy="150" rx="11" ry="14" fill="#4848b0" opacity="0.8" filter="url(#bl3)"/>
<circle cx="803" cy="112" r="4" fill="#f09040" opacity="0.8" filter="url(#bl1)"/>
<ellipse cx="461" cy="433" rx="33" ry="30" fill="none" stroke="#60c8c0" stroke-width="12" opacity="0.85" filter="url(#blobby)"/>
<ellipse cx="461" cy="433" rx="33" ry="30" fill="none" stroke="#50b8c8" stroke-width="8" opacity="0.4" filter="url(#bl2)"/>
<path d="M485 410 C498 425 497 450 484 461 C474 468 462 468 454 464" fill="none" stroke="#c8e040" stroke-width="9" opacity="0.8" filter="url(#blobby)"/>
<ellipse cx="478" cy="448" rx="7" ry="9" fill="#c06050" opacity="0.55" filter="url(#bl3)"/>
<ellipse cx="494" cy="545" rx="7" ry="6" fill="none" stroke="#40b0f0" stroke-width="4" opacity="0.7" filter="url(#bl1)"/>
<g filter="url(#bl1)"><path d="M404 143 C393.8 147.8 359.3 162.5 343 172 C326.7 181.5 316.3 193 306 200 C295.7 207 287.7 209 281 214 C274.3 219 270.3 224.2 266 230 C261.7 235.8 257 242 255 249 C253 256 253.5 264.3 254 272 C254.5 279.7 256.8 287.3 258 295 C259.2 302.7 259.7 310.3 261 318 C262.3 325.7 264.7 333.5 266 341 C267.3 348.5 267 355.5 269 363 C271 370.5 274.7 379.5 278 386 C281.3 392.5 285.8 397 289 402 C292.2 407 294.2 407.8 297 416 C299.8 424.2 303.2 440.7 306 451 C308.8 461.3 311.7 469 314 478 C316.3 487 319 495.8 320 505 C321 514.2 322.3 525.2 320 533 C317.7 540.8 310.7 546.5 306 552 C301.3 557.5 294.3 563.7 292 566" fill="none" stroke="#f09038" stroke-width="3" opacity="0.75" stroke-dasharray="2.5 3" stroke-linecap="round"/><path d="M183 390 C186.7 394.7 199.2 409.3 205 418 C210.8 426.7 213.5 432.5 218 442 C222.5 451.5 227.8 464.5 232 475 C236.2 485.5 238.5 495.3 243 505 C247.5 514.7 251.7 523.3 259 533 C266.3 542.7 282.3 558 287 563" fill="none" stroke="#f09038" stroke-width="3" opacity="0.75" stroke-dasharray="2.5 3" stroke-linecap="round"/><path d="M402 146 C408.8 144.7 429.3 140.7 443 138 C456.7 135.3 470.3 130.7 484 130 C497.7 129.3 513 132.3 525 134 C537 135.7 543.5 137.3 556 140 C568.5 142.7 592.7 148.3 600 150" fill="none" stroke="#f09038" stroke-width="3" opacity="0.75" stroke-dasharray="2.5 3" stroke-linecap="round"/><path d="M655 505 L685 478" fill="none" stroke="#f09038" stroke-width="3" opacity="0.75" stroke-dasharray="2.5 3" stroke-linecap="round"/><path d="M700 472 L718 465" fill="none" stroke="#f09038" stroke-width="3" opacity="0.75" stroke-dasharray="2.5 3" stroke-linecap="round"/><path d="M580 480 C583 484.2 592.7 499.2 598 505 C603.3 510.8 609.7 513.3 612 515" fill="none" stroke="#f09038" stroke-width="3" opacity="0.75" stroke-dasharray="2.5 3" stroke-linecap="round"/><path d="M617 402 C622.5 402.3 637.8 402.7 650 404 C662.2 405.3 676.7 406 690 410 C703.3 414 723.3 425 730 428" fill="none" stroke="#f09038" stroke-width="3" opacity="0.4" stroke-dasharray="2.5 3" stroke-linecap="round"/></g>
<path d="M288 568 L296 560 L300 564 L308 556 L312 560 L320 552 L324 546" fill="none" stroke="#f0d040" stroke-width="4" opacity="0.85" filter="url(#bl1)"/>
<path d="M652 510 L668 494 L676 488 L688 476" fill="none" stroke="#f0b030" stroke-width="4" opacity="0.85" filter="url(#bl1)"/>
<path d="M183 390 L200 405" stroke="#d040d0" stroke-width="4" opacity="0.8" filter="url(#bl1)"/>
<circle cx="548" cy="356" r="5" fill="#40e0d0" opacity="0.7" filter="url(#bl2)"/>
<circle cx="584" cy="454" r="10" fill="#1a9cf0" opacity="0.7" filter="url(#bl2)"/>
<circle cx="602" cy="456" r="8" fill="#1a9cf0" opacity="0.7" filter="url(#bl2)"/>
<circle cx="704" cy="462" r="5" fill="#60e0f0" opacity="0.7" filter="url(#bl2)"/>
<circle cx="160" cy="445" r="10" fill="#40d0b0" opacity="0.7" filter="url(#bl2)"/>
<circle cx="200" cy="395" r="4" fill="#60f040" opacity="0.7" filter="url(#bl2)"/>
<circle cx="470" cy="580" r="6" fill="#40b0e0" opacity="0.7" filter="url(#bl2)"/>
<circle cx="240" cy="430" r="4" fill="#80f050" opacity="0.7" filter="url(#bl2)"/>
<g filter="url(#bl1)"><circle cx="207.2" cy="670.5" r="3" fill="#80e040" opacity="0.4"/><circle cx="814.4" cy="305.4" r="1.5" fill="#f08040" opacity="0.4"/><circle cx="166.4" cy="229" r="2" fill="#f0a030" opacity="0.8"/><circle cx="858.3" cy="614.9" r="1.2" fill="#e06040" opacity="0.7"/><circle cx="702.5" cy="488.5" r="2.5" fill="#f0a030" opacity="0.4"/><circle cx="389.3" cy="63" r="1.5" fill="#f08040" opacity="0.7"/><circle cx="606.7" cy="352.1" r="1.2" fill="#80e040" opacity="0.5"/><circle cx="340.9" cy="141.6" r="2.5" fill="#80e040" opacity="0.4"/><circle cx="326" cy="154.2" r="1.2" fill="#80e040" opacity="0.7"/><circle cx="291.4" cy="83.1" r="1.5" fill="#f0a030" opacity="0.8"/><circle cx="828" cy="649.1" r="1.5" fill="#d0e040" opacity="0.6"/><circle cx="213" cy="675.7" r="1.2" fill="#f08040" opacity="0.4"/><circle cx="912.4" cy="273.3" r="1.5" fill="#80e040" opacity="0.4"/><circle cx="428" cy="279.6" r="1.2" fill="#f0d030" opacity="0.7"/><circle cx="577.6" cy="155.3" r="1.5" fill="#e06040" opacity="0.5"/><circle cx="332.7" cy="76.1" r="3" fill="#d0e040" opacity="0.5"/><circle cx="778" cy="232.2" r="1.2" fill="#e06040" opacity="0.6"/><circle cx="521" cy="161" r="3" fill="#f0a030" opacity="0.6"/><circle cx="764.8" cy="673.4" r="3" fill="#80e040" opacity="0.7"/><circle cx="230.7" cy="560.3" r="2" fill="#80e040" opacity="0.8"/><circle cx="933" cy="673.3" r="1.2" fill="#80e040" opacity="0.5"/><circle cx="851.6" cy="97.4" r="2" fill="#f0d030" opacity="0.8"/><circle cx="148.3" cy="594.9" r="2" fill="#60d0a0" opacity="0.4"/><circle cx="137" cy="611.6" r="3" fill="#e06040" opacity="0.4"/><circle cx="483.3" cy="664.6" r="1.5" fill="#e06040" opacity="0.6"/><circle cx="245.8" cy="178.8" r="1.5" fill="#f08040" opacity="0.4"/><circle cx="615.4" cy="609.5" r="3" fill="#f08040" opacity="0.6"/><circle cx="354.3" cy="196" r="3" fill="#f08040" opacity="0.7"/><circle cx="784" cy="446.2" r="1.5" fill="#f0a030" opacity="0.4"/><circle cx="720.9" cy="330.1" r="1.2" fill="#60d0a0" opacity="0.7"/><circle cx="403.3" cy="618.1" r="2.5" fill="#f0a030" opacity="0.4"/><circle cx="862.8" cy="375.6" r="2" fill="#f0d030" opacity="0.4"/><circle cx="800" cy="302.9" r="1.5" fill="#f08040" opacity="0.5"/><circle cx="610.8" cy="62.3" r="3" fill="#80e040" opacity="0.8"/><circle cx="192.5" cy="296" r="1.5" fill="#d0e040" opacity="0.7"/><circle cx="864.6" cy="576.4" r="2.5" fill="#60d0a0" opacity="0.7"/><circle cx="184.4" cy="638.6" r="2.5" fill="#80e040" opacity="0.6"/><circle cx="559.4" cy="415.9" r="1.2" fill="#f0d030" opacity="0.8"/><circle cx="314.2" cy="180.3" r="1.2" fill="#e06040" opacity="0.5"/><circle cx="788.4" cy="79.2" r="1.2" fill="#f08040" opacity="0.7"/><circle cx="344.4" cy="615" r="3" fill="#80e040" opacity="0.6"/><circle cx="696.9" cy="127.5" r="1.2" fill="#f08040" opacity="0.4"/><circle cx="353.6" cy="367.8" r="3" fill="#60d0a0" opacity="0.7"/><circle cx="223.4" cy="139.9" r="1.5" fill="#60d0a0" opacity="0.6"/><circle cx="823.5" cy="156.9" r="3" fill="#80e040" opacity="0.7"/><circle cx="266.8" cy="607.5" r="2.5" fill="#f08040" opacity="0.5"/><circle cx="806.4" cy="408.1" r="2.5" fill="#f0a030" opacity="0.7"/><circle cx="406" cy="218.8" r="2" fill="#f08040" opacity="0.5"/><circle cx="919.5" cy="593.1" r="2" fill="#d0e040" opacity="0.5"/><circle cx="583.8" cy="274.9" r="1.5" fill="#f08040" opacity="0.8"/><circle cx="334.7" cy="339.4" r="1.2" fill="#e06040" opacity="0.4"/><circle cx="285.3" cy="274.5" r="1.5" fill="#60d0a0" opacity="0.7"/><circle cx="315.7" cy="338.5" r="2.5" fill="#d0e040" opacity="0.8"/><circle cx="498" cy="90.2" r="1.2" fill="#f0a030" opacity="0.7"/><circle cx="631.6" cy="668.5" r="3" fill="#e06040" opacity="0.6"/><circle cx="779.8" cy="82.9" r="1.2" fill="#e06040" opacity="0.4"/><circle cx="146.4" cy="216.3" r="1.2" fill="#e06040" opacity="0.4"/><circle cx="413.2" cy="170" r="1.2" fill="#60d0a0" opacity="0.8"/><circle cx="871.4" cy="657.6" r="1.2" fill="#80e040" opacity="0.6"/><circle cx="880.1" cy="351.3" r="3" fill="#f0d030" opacity="0.7"/><circle cx="867.1" cy="442.4" r="2" fill="#f0d030" opacity="0.7"/><circle cx="727.1" cy="249.8" r="2.5" fill="#60d0a0" opacity="0.7"/><circle cx="312.6" cy="315.9" r="3" fill="#f08040" opacity="0.5"/><circle cx="848.1" cy="260.8" r="2.5" fill="#80e040" opacity="0.7"/><circle cx="160.2" cy="280.7" r="1.5" fill="#60d0a0" opacity="0.6"/><circle cx="910.2" cy="322.4" r="2" fill="#f0d030" opacity="0.7"/><circle cx="326.1" cy="428.7" r="2.5" fill="#e06040" opacity="0.5"/><circle cx="924.5" cy="255.4" r="1.2" fill="#f0d030" opacity="0.6"/><circle cx="619.6" cy="290.2" r="1.2" fill="#60d0a0" opacity="0.5"/><circle cx="487" cy="547.4" r="1.2" fill="#60d0a0" opacity="0.5"/><circle cx="902" cy="549.5" r="1.5" fill="#80e040" opacity="0.5"/><circle cx="417.1" cy="507.5" r="3" fill="#60d0a0" opacity="0.7"/><circle cx="791.6" cy="402.9" r="2.5" fill="#e06040" opacity="0.7"/><circle cx="701.6" cy="666.4" r="1.5" fill="#80e040" opacity="0.7"/><circle cx="139" cy="567.5" r="3" fill="#f0a030" opacity="0.6"/><circle cx="904.7" cy="438.9" r="2.5" fill="#d0e040" opacity="0.7"/><circle cx="832.8" cy="462.3" r="2.5" fill="#d0e040" opacity="0.6"/><circle cx="501.4" cy="539.2" r="2" fill="#e06040" opacity="0.5"/><circle cx="579.2" cy="314.4" r="2" fill="#f0a030" opacity="0.7"/><circle cx="814.3" cy="390.8" r="2.5" fill="#e06040" opacity="0.4"/><circle cx="378.4" cy="155.4" r="3" fill="#80e040" opacity="0.6"/><circle cx="205.8" cy="670" r="2" fill="#d0e040" opacity="0.6"/><circle cx="329.4" cy="275.5" r="2.5" fill="#f0a030" opacity="0.4"/><circle cx="340.5" cy="653.9" r="2" fill="#60d0a0" opacity="0.7"/><circle cx="565.8" cy="721.9" r="3" fill="#d0e040" opacity="0.6"/><circle cx="683" cy="317.8" r="2" fill="#f0a030" opacity="0.6"/><circle cx="416" cy="688.4" r="1.2" fill="#60d0a0" opacity="0.5"/><circle cx="462.7" cy="391.7" r="3" fill="#60d0a0" opacity="0.4"/><circle cx="285.9" cy="338.8" r="2.5" fill="#80e040" opacity="0.7"/><circle cx="853.9" cy="449.1" r="3" fill="#f08040" opacity="0.7"/><circle cx="271.9" cy="270.3" r="1.2" fill="#d0e040" opacity="0.5"/><circle cx="275.8" cy="494.6" r="2" fill="#f08040" opacity="0.5"/><circle cx="882.9" cy="397" r="2.5" fill="#f08040" opacity="0.4"/><circle cx="367.2" cy="398.8" r="3" fill="#f0d030" opacity="0.5"/><circle cx="183.6" cy="434.2" r="1.2" fill="#e06040" opacity="0.6"/><circle cx="639.9" cy="539" r="2.5" fill="#f0a030" opacity="0.7"/><circle cx="380.6" cy="517.7" r="1.2" fill="#e06040" opacity="0.5"/><circle cx="214.2" cy="69.4" r="1.2" fill="#f0d030" opacity="0.4"/><circle cx="749.9" cy="435.6" r="3" fill="#60d0a0" opacity="0.8"/><circle cx="594.5" cy="332.1" r="1.2" fill="#f0d030" opacity="0.4"/><circle cx="742.3" cy="130" r="1.2" fill="#f0a030" opacity="0.4"/><circle cx="553" cy="605.6" r="3" fill="#80e040" opacity="0.7"/><circle cx="185.1" cy="67.5" r="3" fill="#e06040" opacity="0.4"/><circle cx="325.9" cy="242" r="1.2" fill="#e06040" opacity="0.6"/><circle cx="822.1" cy="688.3" r="1.2" fill="#e06040" opacity="0.4"/><circle cx="634.1" cy="72.2" r="1.5" fill="#80e040" opacity="0.6"/><circle cx="902.2" cy="351" r="3" fill="#f0d030" opacity="0.5"/><circle cx="170.6" cy="677.1" r="1.5" fill="#e06040" opacity="0.4"/><circle cx="828.2" cy="361.5" r="2.5" fill="#60d0a0" opacity="0.5"/><circle cx="844.1" cy="709.4" r="1.2" fill="#f0d030" opacity="0.7"/><circle cx="674.8" cy="447.4" r="2.5" fill="#e06040" opacity="0.5"/><circle cx="704.2" cy="74.1" r="1.5" fill="#f0a030" opacity="0.4"/><circle cx="421.9" cy="183" r="2" fill="#80e040" opacity="0.6"/><circle cx="227.3" cy="413.5" r="2.5" fill="#e06040" opacity="0.5"/><circle cx="187.8" cy="141" r="2" fill="#60d0a0" opacity="0.5"/><circle cx="288.3" cy="247.4" r="1.5" fill="#80e040" opacity="0.4"/><circle cx="666.3" cy="285.8" r="1.5" fill="#f0d030" opacity="0.7"/><circle cx="209.5" cy="238.2" r="1.5" fill="#60d0a0" opacity="0.5"/><circle cx="803.7" cy="593.5" r="1.5" fill="#e06040" opacity="0.5"/><circle cx="712.8" cy="309.4" r="3" fill="#f0d030" opacity="0.5"/><circle cx="515.8" cy="194.9" r="2.5" fill="#f08040" opacity="0.4"/><circle cx="700" cy="232.3" r="2.5" fill="#60d0a0" opacity="0.8"/><circle cx="562.7" cy="327.5" r="3" fill="#f0d030" opacity="0.4"/><circle cx="735.3" cy="509.2" r="1.2" fill="#60d0a0" opacity="0.7"/><circle cx="723.5" cy="566.9" r="1.2" fill="#f08040" opacity="0.7"/><circle cx="251.4" cy="69.2" r="1.2" fill="#f08040" opacity="0.4"/><circle cx="815.5" cy="272.3" r="1.2" fill="#f0a030" opacity="0.6"/><circle cx="424.3" cy="391.3" r="2" fill="#f0d030" opacity="0.4"/><circle cx="384.2" cy="209.5" r="1.5" fill="#d0e040" opacity="0.7"/><circle cx="361.1" cy="327" r="2.5" fill="#d0e040" opacity="0.6"/><circle cx="637.8" cy="632.1" r="2" fill="#f0d030" opacity="0.4"/><circle cx="678.5" cy="499.7" r="2" fill="#80e040" opacity="0.4"/><circle cx="697.8" cy="366.3" r="2.5" fill="#e06040" opacity="0.8"/><circle cx="213.6" cy="252.7" r="2" fill="#60d0a0" opacity="0.7"/><circle cx="704.9" cy="86.1" r="1.2" fill="#60d0a0" opacity="0.4"/><circle cx="293.8" cy="260.4" r="2.5" fill="#f08040" opacity="0.4"/><circle cx="383.9" cy="482.9" r="1.5" fill="#60d0a0" opacity="0.7"/><circle cx="591.1" cy="534.9" r="2" fill="#80e040" opacity="0.7"/><circle cx="595.1" cy="680.3" r="1.2" fill="#d0e040" opacity="0.7"/><circle cx="659.2" cy="657.3" r="3" fill="#60d0a0" opacity="0.7"/><circle cx="913.8" cy="511.3" r="1.2" fill="#d0e040" opacity="0.5"/><circle cx="756.4" cy="288.7" r="1.2" fill="#80e040" opacity="0.7"/><circle cx="450" cy="555.4" r="1.5" fill="#e06040" opacity="0.6"/><circle cx="414.4" cy="689.6" r="2.5" fill="#e06040" opacity="0.7"/><circle cx="725.6" cy="610.1" r="2.5" fill="#60d0a0" opacity="0.4"/><circle cx="693.4" cy="343.5" r="3" fill="#d0e040" opacity="0.8"/><circle cx="237.5" cy="565" r="1.2" fill="#f08040" opacity="0.7"/><circle cx="582.2" cy="175.1" r="1.5" fill="#d0e040" opacity="0.6"/><circle cx="570.1" cy="224.9" r="1.2" fill="#f0d030" opacity="0.5"/><circle cx="464.4" cy="192.9" r="2" fill="#f0d030" opacity="0.4"/><circle cx="700.4" cy="504.2" r="1.5" fill="#f08040" opacity="0.5"/><circle cx="547.3" cy="354.6" r="2" fill="#f08040" opacity="0.5"/><circle cx="842.4" cy="153.4" r="3" fill="#f0d030" opacity="0.5"/><circle cx="787" cy="423.1" r="1.5" fill="#f08040" opacity="0.6"/><circle cx="613.8" cy="365.3" r="2.5" fill="#d0e040" opacity="0.4"/><circle cx="686.9" cy="67.4" r="2.5" fill="#f0d030" opacity="0.4"/><circle cx="851.3" cy="260.9" r="1.2" fill="#f08040" opacity="0.5"/><circle cx="904.8" cy="166.3" r="2.5" fill="#80e040" opacity="0.6"/><circle cx="366.8" cy="429.3" r="1.2" fill="#f0a030" opacity="0.6"/><circle cx="918.4" cy="381.5" r="2" fill="#f08040" opacity="0.6"/><circle cx="222.4" cy="383.7" r="2.5" fill="#80e040" opacity="0.4"/><circle cx="569.4" cy="64.7" r="1.2" fill="#f08040" opacity="0.5"/><circle cx="625.6" cy="544.2" r="2" fill="#f08040" opacity="0.5"/><circle cx="246.3" cy="77.6" r="2.5" fill="#d0e040" opacity="0.4"/><circle cx="429.4" cy="697.8" r="3" fill="#d0e040" opacity="0.8"/><circle cx="680.5" cy="127" r="2" fill="#f08040" opacity="0.6"/><circle cx="438.6" cy="488.9" r="2" fill="#e06040" opacity="0.5"/><circle cx="244.4" cy="669.7" r="2" fill="#f0d030" opacity="0.4"/><circle cx="221.2" cy="592.1" r="2.5" fill="#f0a030" opacity="0.8"/><circle cx="530.5" cy="390.8" r="1.5" fill="#e06040" opacity="0.6"/><circle cx="480.4" cy="178.9" r="1.6" fill="#e05040" opacity="0.7"/><circle cx="564.1" cy="191.6" r="1.3" fill="#d04050" opacity="0.7"/><circle cx="538.1" cy="230.9" r="1.3" fill="#d04050" opacity="0.6"/><circle cx="551.7" cy="201.2" r="2.5" fill="#f0a030" opacity="0.5"/><circle cx="666.4" cy="198.2" r="1.5" fill="#e05040" opacity="0.7"/><circle cx="654.5" cy="196.4" r="2.4" fill="#e05040" opacity="0.7"/><circle cx="416" cy="183.6" r="2" fill="#e05040" opacity="0.9"/><circle cx="634.7" cy="183.8" r="2.7" fill="#f07030" opacity="0.8"/><circle cx="460.3" cy="237.4" r="2.2" fill="#d04050" opacity="0.9"/><circle cx="400.2" cy="200.8" r="1.7" fill="#f0a030" opacity="0.7"/><circle cx="427.8" cy="153.8" r="1.6" fill="#d04050" opacity="0.8"/><circle cx="588.9" cy="231.4" r="2.2" fill="#d04050" opacity="0.6"/><circle cx="526.1" cy="234.8" r="1.7" fill="#e05040" opacity="0.6"/><circle cx="605.6" cy="166.7" r="1.4" fill="#f0a030" opacity="0.8"/><circle cx="567" cy="240.4" r="2.5" fill="#e05040" opacity="0.7"/><circle cx="536.7" cy="239.9" r="1.4" fill="#f07030" opacity="0.8"/><circle cx="462.5" cy="146.5" r="1.4" fill="#f07030" opacity="0.8"/><circle cx="624.3" cy="184.4" r="2" fill="#d04050" opacity="0.7"/><circle cx="584.3" cy="189.7" r="2.1" fill="#f07030" opacity="0.6"/><circle cx="525.9" cy="180.8" r="1.6" fill="#f0a030" opacity="0.5"/><circle cx="476.4" cy="139" r="2" fill="#f07030" opacity="0.8"/><circle cx="393.6" cy="220.4" r="2.3" fill="#e05040" opacity="0.7"/><circle cx="641.6" cy="167.3" r="1.5" fill="#f0a030" opacity="0.8"/><circle cx="518.6" cy="188.5" r="1.7" fill="#e05040" opacity="0.6"/><circle cx="508.3" cy="136.8" r="2.5" fill="#f07030" opacity="0.8"/><circle cx="465.9" cy="223.5" r="1.8" fill="#f07030" opacity="0.5"/><circle cx="582.4" cy="179.2" r="1.8" fill="#d04050" opacity="0.5"/><circle cx="619.2" cy="192.2" r="2.6" fill="#d04050" opacity="0.5"/><circle cx="540.2" cy="170.5" r="2.2" fill="#f0a030" opacity="0.8"/><circle cx="453.6" cy="147" r="2.3" fill="#f0a030" opacity="0.7"/><circle cx="470" cy="144.9" r="2.9" fill="#f07030" opacity="0.5"/><circle cx="624.6" cy="193.5" r="2.1" fill="#f07030" opacity="0.8"/><circle cx="582.5" cy="200.7" r="2.7" fill="#d04050" opacity="0.8"/><circle cx="642.3" cy="184.9" r="2" fill="#e05040" opacity="0.8"/><circle cx="488.3" cy="184.4" r="1.8" fill="#e05040" opacity="0.6"/><circle cx="600.7" cy="229.8" r="1.6" fill="#f0a030" opacity="0.8"/><circle cx="469.8" cy="230.8" r="2.9" fill="#f0a030" opacity="0.5"/><circle cx="443.8" cy="178.5" r="1.2" fill="#d04050" opacity="0.9"/><circle cx="427.6" cy="164.9" r="2.5" fill="#e05040" opacity="0.6"/><circle cx="504.5" cy="237" r="1.7" fill="#e05040" opacity="0.9"/><circle cx="629.7" cy="204.6" r="2.6" fill="#e05040" opacity="0.8"/><circle cx="439.9" cy="159.5" r="1.9" fill="#f0a030" opacity="0.8"/><circle cx="530.1" cy="248.4" r="1.5" fill="#f07030" opacity="0.6"/><circle cx="530.8" cy="143.6" r="2.1" fill="#e05040" opacity="0.6"/><circle cx="429.2" cy="183" r="1.3" fill="#f0a030" opacity="0.8"/><circle cx="536.3" cy="226.4" r="2.1" fill="#c0e040" opacity="0.8"/><circle cx="525.5" cy="249.7" r="1.6" fill="#e0e040" opacity="0.7"/><circle cx="481.6" cy="260.1" r="1.7" fill="#c0e040" opacity="0.7"/><circle cx="531" cy="276.7" r="1.7" fill="#e0e040" opacity="0.7"/><circle cx="531.6" cy="241.1" r="2.9" fill="#e0e040" opacity="0.9"/><circle cx="491" cy="238.8" r="1.8" fill="#90e040" opacity="0.6"/><circle cx="514" cy="224.1" r="2.8" fill="#c0e040" opacity="0.8"/><circle cx="502.9" cy="265.2" r="2.8" fill="#e0e040" opacity="0.5"/><circle cx="520.6" cy="267.8" r="2.5" fill="#c0e040" opacity="0.5"/><circle cx="474.2" cy="262.2" r="1.7" fill="#e0e040" opacity="0.8"/><circle cx="521.3" cy="282.4" r="2.9" fill="#e0e040" opacity="0.5"/><circle cx="542.4" cy="266.1" r="2.2" fill="#e0e040" opacity="0.6"/><circle cx="521.1" cy="277.1" r="2.8" fill="#e0e040" opacity="0.6"/><circle cx="532.3" cy="253.9" r="2.8" fill="#c0e040" opacity="0.8"/><circle cx="482.7" cy="268.5" r="1.8" fill="#c0e040" opacity="0.8"/><circle cx="513.4" cy="238.7" r="2.3" fill="#90e040" opacity="0.9"/><circle cx="478.7" cy="272.9" r="2.8" fill="#c0e040" opacity="0.9"/><circle cx="473.4" cy="234.4" r="1.3" fill="#e0e040" opacity="0.8"/><circle cx="202.1" cy="93" r="1.2" fill="#f0a030" opacity="0.6"/><circle cx="191.9" cy="95.1" r="2.7" fill="#f0c030" opacity="0.6"/><circle cx="166.3" cy="67.9" r="1.5" fill="#e06040" opacity="0.7"/><circle cx="195.9" cy="149" r="2.7" fill="#f0c030" opacity="0.8"/><circle cx="195.4" cy="82.6" r="2.6" fill="#e06040" opacity="0.7"/><circle cx="182.3" cy="145.6" r="2.9" fill="#f0a030" opacity="0.6"/><circle cx="172.3" cy="104.4" r="2.7" fill="#f0c030" opacity="0.6"/><circle cx="163.8" cy="87.1" r="3" fill="#f0a030" opacity="0.7"/><circle cx="221.8" cy="135.6" r="1.6" fill="#f0a030" opacity="0.6"/><circle cx="149.5" cy="83.5" r="2.8" fill="#e06040" opacity="0.8"/><circle cx="197.9" cy="74.3" r="1.8" fill="#e06040" opacity="0.6"/><circle cx="232.1" cy="106.1" r="2.3" fill="#f0c030" opacity="0.9"/><circle cx="168.8" cy="124.8" r="2.6" fill="#f0a030" opacity="0.5"/><circle cx="188.4" cy="97.3" r="2.4" fill="#f0c030" opacity="0.8"/><circle cx="617.4" cy="519.3" r="1.9" fill="#60c0f0" opacity="0.9"/><circle cx="613.6" cy="483" r="1.7" fill="#e06040" opacity="0.8"/><circle cx="642.4" cy="529.7" r="1.8" fill="#60c0f0" opacity="0.8"/><circle cx="616.1" cy="547.6" r="1.6" fill="#f0c040" opacity="0.7"/><circle cx="704.2" cy="482.3" r="2.9" fill="#f0c040" opacity="0.8"/><circle cx="630.6" cy="528.2" r="2.1" fill="#f0c040" opacity="0.6"/><circle cx="614.6" cy="464.7" r="2" fill="#f09030" opacity="0.9"/><circle cx="658.8" cy="545.5" r="1.8" fill="#60c0f0" opacity="0.6"/><circle cx="692.4" cy="462.4" r="1.7" fill="#f09030" opacity="0.8"/><circle cx="684.2" cy="539" r="1.4" fill="#e06040" opacity="0.6"/><circle cx="637.8" cy="484.4" r="1.5" fill="#60c0f0" opacity="0.5"/><circle cx="599.1" cy="540.5" r="2.5" fill="#e06040" opacity="0.9"/><circle cx="677.9" cy="505" r="2.6" fill="#f09030" opacity="0.5"/><circle cx="601.5" cy="499.3" r="2" fill="#f09030" opacity="0.8"/><circle cx="712.2" cy="514.1" r="1.3" fill="#f09030" opacity="0.5"/><circle cx="610.6" cy="501.5" r="2" fill="#f0c040" opacity="0.6"/><circle cx="578.4" cy="490" r="2.2" fill="#f09030" opacity="0.7"/><circle cx="681.8" cy="458.6" r="1.3" fill="#f0c040" opacity="0.8"/><circle cx="677.3" cy="495.9" r="1.3" fill="#f0c040" opacity="0.5"/><circle cx="630.6" cy="548.8" r="1.6" fill="#f09030" opacity="0.7"/><circle cx="594.8" cy="489.5" r="1.2" fill="#f09030" opacity="0.8"/><circle cx="583" cy="489.9" r="2.4" fill="#e06040" opacity="0.7"/><circle cx="618.5" cy="529.4" r="3" fill="#60c0f0" opacity="0.8"/><circle cx="692.8" cy="469.7" r="2.8" fill="#f09030" opacity="0.6"/><circle cx="560.5" cy="499.7" r="2.4" fill="#60c0f0" opacity="0.9"/><circle cx="876.1" cy="333.1" r="1.4" fill="#f09040" opacity="0.8"/><circle cx="863.1" cy="405.5" r="2.4" fill="#80e060" opacity="0.8"/><circle cx="796.5" cy="454.7" r="2" fill="#f09040" opacity="0.5"/><circle cx="848.4" cy="309.2" r="2.1" fill="#f09040" opacity="0.7"/><circle cx="803.7" cy="494.7" r="2.6" fill="#80e060" opacity="0.6"/><circle cx="913.6" cy="466.5" r="1.7" fill="#f09040" opacity="0.8"/><circle cx="825.7" cy="505.6" r="2.2" fill="#e0e040" opacity="0.9"/><circle cx="853.5" cy="358.8" r="2.7" fill="#f09040" opacity="0.6"/><circle cx="805.3" cy="371.7" r="3" fill="#e0e040" opacity="0.9"/><circle cx="800.2" cy="404.4" r="2.1" fill="#80e060" opacity="0.6"/><circle cx="879.7" cy="516.1" r="2" fill="#f09040" opacity="0.9"/><circle cx="884.9" cy="343.7" r="2.8" fill="#80e060" opacity="0.7"/><circle cx="881.2" cy="325.6" r="1.4" fill="#e0e040" opacity="0.8"/><circle cx="820.1" cy="471.2" r="2.4" fill="#f09040" opacity="0.7"/><circle cx="830.1" cy="430.4" r="1.9" fill="#80e060" opacity="0.8"/><circle cx="804" cy="446" r="2.6" fill="#f09040" opacity="0.6"/><circle cx="832" cy="354.2" r="2.1" fill="#e0e040" opacity="0.7"/><circle cx="788" cy="404.3" r="1.7" fill="#f09040" opacity="0.6"/><circle cx="834.8" cy="407.6" r="1.5" fill="#f09040" opacity="0.7"/><circle cx="880.7" cy="389.7" r="1.7" fill="#80e060" opacity="0.5"/><circle cx="399.1" cy="137.4" r="1.8" fill="#f0d040" opacity="0.9"/><circle cx="402.2" cy="149.8" r="2.9" fill="#e07040" opacity="0.7"/><circle cx="399.5" cy="148" r="1.9" fill="#f0d040" opacity="0.7"/><circle cx="339.8" cy="169.5" r="1.9" fill="#e07040" opacity="0.6"/><circle cx="337.2" cy="166.6" r="2.8" fill="#e07040" opacity="0.6"/><circle cx="340.7" cy="168" r="1.6" fill="#f0d040" opacity="0.7"/><circle cx="300.4" cy="199.1" r="2.9" fill="#f0a030" opacity="0.5"/><circle cx="298.9" cy="197" r="2.6" fill="#f0d040" opacity="0.7"/><circle cx="298.6" cy="201.2" r="2.2" fill="#f0d040" opacity="0.6"/><circle cx="281" cy="213.2" r="1.8" fill="#f0a030" opacity="0.7"/><circle cx="287.4" cy="215.7" r="2.3" fill="#f0d040" opacity="0.8"/><circle cx="283.8" cy="216.5" r="1.6" fill="#f0a030" opacity="0.5"/><circle cx="271.9" cy="233.7" r="2.3" fill="#f0a030" opacity="0.8"/><circle cx="267.4" cy="234.4" r="2.8" fill="#e07040" opacity="0.8"/><circle cx="260.7" cy="233" r="3" fill="#f0a030" opacity="0.8"/><circle cx="257.8" cy="252.7" r="2.3" fill="#f0a030" opacity="0.6"/><circle cx="249.4" cy="247.6" r="1.6" fill="#f0d040" opacity="0.6"/><circle cx="258.8" cy="244.4" r="2.3" fill="#f0d040" opacity="0.8"/><circle cx="252.6" cy="275.7" r="2.1" fill="#f0d040" opacity="0.8"/><circle cx="253.8" cy="275.6" r="1.6" fill="#e07040" opacity="0.8"/><circle cx="259.9" cy="269.3" r="2.6" fill="#f0a030" opacity="0.6"/><circle cx="259.1" cy="291.6" r="2.9" fill="#e07040" opacity="0.8"/><circle cx="257.9" cy="294.3" r="1.6" fill="#e07040" opacity="0.8"/><circle cx="261.7" cy="295.8" r="2.2" fill="#f0a030" opacity="0.8"/><circle cx="263" cy="312.2" r="2.2" fill="#e07040" opacity="0.7"/><circle cx="262.4" cy="316.7" r="2.2" fill="#e07040" opacity="0.5"/><circle cx="265.9" cy="323.7" r="2.7" fill="#f0d040" opacity="0.6"/><circle cx="271.3" cy="338.2" r="2.7" fill="#f0d040" opacity="0.6"/><circle cx="264.7" cy="334.2" r="2.7" fill="#e07040" opacity="0.8"/><circle cx="270.7" cy="347.1" r="1.8" fill="#f0a030" opacity="0.7"/><circle cx="269.7" cy="365.3" r="1.6" fill="#f0a030" opacity="0.8"/><circle cx="268.6" cy="370.6" r="2.5" fill="#f0a030" opacity="0.8"/><circle cx="271.6" cy="361.7" r="1.7" fill="#f0d040" opacity="0.6"/><circle cx="278.7" cy="392.1" r="2" fill="#e07040" opacity="0.8"/><circle cx="276.5" cy="389.8" r="2.3" fill="#f0a030" opacity="0.6"/><circle cx="280.4" cy="378.5" r="2.1" fill="#f0a030" opacity="0.6"/><circle cx="291.4" cy="405.6" r="2.5" fill="#e07040" opacity="0.5"/><circle cx="282.3" cy="403.5" r="2.1" fill="#e07040" opacity="0.7"/><circle cx="293.6" cy="403.1" r="2.5" fill="#f0a030" opacity="0.9"/><circle cx="302.4" cy="413.8" r="1.9" fill="#f0d040" opacity="0.5"/><circle cx="298.5" cy="408.6" r="2.9" fill="#f0a030" opacity="0.7"/><circle cx="301.1" cy="411.3" r="2.3" fill="#f0a030" opacity="0.6"/><circle cx="299.1" cy="452.3" r="2.6" fill="#f0a030" opacity="0.7"/><circle cx="304.1" cy="456.8" r="1.7" fill="#f0a030" opacity="0.6"/><circle cx="312.1" cy="448.8" r="1.6" fill="#f0d040" opacity="0.6"/><circle cx="309.4" cy="478.5" r="2" fill="#f0a030" opacity="0.8"/><circle cx="313.4" cy="480" r="2.3" fill="#f0a030" opacity="0.8"/><circle cx="316.4" cy="480.1" r="2.1" fill="#f0a030" opacity="0.5"/><circle cx="317.5" cy="504.8" r="2.5" fill="#f0a030" opacity="0.7"/><circle cx="321.2" cy="503.1" r="2.6" fill="#e07040" opacity="0.6"/><circle cx="323.8" cy="511.8" r="2" fill="#e07040" opacity="0.8"/><circle cx="316.9" cy="533.4" r="1.6" fill="#f0a030" opacity="0.5"/><circle cx="314.1" cy="533.1" r="1.7" fill="#f0d040" opacity="0.6"/><circle cx="318.5" cy="532.3" r="1.9" fill="#f0a030" opacity="0.6"/><circle cx="298.5" cy="549.3" r="2.9" fill="#e07040" opacity="0.8"/><circle cx="298.5" cy="551.9" r="1.5" fill="#f0a030" opacity="0.7"/><circle cx="307.5" cy="546.2" r="2.5" fill="#f0a030" opacity="0.5"/><circle cx="295.5" cy="572.5" r="3" fill="#f0d040" opacity="0.7"/><circle cx="287.7" cy="565.5" r="2.8" fill="#f0a030" opacity="0.8"/><circle cx="292.8" cy="569.9" r="2.7" fill="#e07040" opacity="0.8"/><circle cx="186.7" cy="391.5" r="2.4" fill="#f0a030" opacity="0.5"/><circle cx="178.1" cy="385.5" r="2.7" fill="#f0d040" opacity="0.5"/><circle cx="183.4" cy="383.9" r="1.8" fill="#f0d040" opacity="0.9"/><circle cx="200.7" cy="420.7" r="1.6" fill="#f0a030" opacity="0.6"/><circle cx="201.7" cy="417.8" r="2.7" fill="#f0a030" opacity="0.6"/><circle cx="210.9" cy="415" r="2.6" fill="#f0a030" opacity="0.9"/><circle cx="219.4" cy="436.6" r="2.2" fill="#f0d040" opacity="0.9"/><circle cx="218.1" cy="435.6" r="1.8" fill="#e07040" opacity="0.5"/><circle cx="214.6" cy="445.8" r="2.5" fill="#f0d040" opacity="0.7"/><circle cx="233.8" cy="469.7" r="2.7" fill="#f0d040" opacity="0.6"/><circle cx="235.7" cy="468.2" r="2.9" fill="#e07040" opacity="0.7"/><circle cx="233.6" cy="468.6" r="1.7" fill="#f0d040" opacity="0.8"/><circle cx="244.6" cy="497.7" r="1.9" fill="#e07040" opacity="0.7"/><circle cx="245.6" cy="504.1" r="3" fill="#f0d040" opacity="0.8"/><circle cx="245.3" cy="501.8" r="2.4" fill="#e07040" opacity="0.6"/><circle cx="251.4" cy="533.4" r="2.5" fill="#e07040" opacity="0.5"/><circle cx="256.4" cy="528.7" r="2.4" fill="#f0d040" opacity="0.8"/><circle cx="257" cy="534.3" r="2.5" fill="#f0d040" opacity="0.8"/><circle cx="291.3" cy="560" r="2" fill="#f0d040" opacity="0.7"/><circle cx="289.6" cy="563.3" r="2.7" fill="#f0d040" opacity="0.7"/><circle cx="286.1" cy="565.9" r="2.3" fill="#f0a030" opacity="0.6"/></g>
<ellipse cx="534.5" cy="370.5" rx="8.5" ry="10.5" fill="#ffff00" filter="url(#bl1)"/>
<circle cx="806" cy="281" r="4" fill="#e8f020" opacity="0.9" filter="url(#bl1)"/>
<circle cx="606.5" cy="467.2" r="3.5" fill="#f0f040" opacity="0.9" filter="url(#bl1)"/>
<circle cx="674" cy="522" r="3" fill="#f09030" opacity="0.9" filter="url(#bl1)"/>
<circle cx="498" cy="625" r="3" fill="#f04070" opacity="0.9" filter="url(#bl1)"/>
<circle cx="230" cy="436" r="3" fill="#e0e040" opacity="0.9" filter="url(#bl1)"/>
<circle cx="223" cy="405" r="3.5" fill="#e0e040" opacity="0.9" filter="url(#bl1)"/>
<circle cx="327" cy="302" r="3" fill="#f0a030" opacity="0.9" filter="url(#bl1)"/>
<circle cx="428" cy="259" r="3" fill="#f0a040" opacity="0.9" filter="url(#bl1)"/>
<circle cx="386" cy="176" r="3" fill="#f0a030" opacity="0.9" filter="url(#bl1)"/>
<circle cx="533" cy="185" r="3" fill="#f0a040" opacity="0.9" filter="url(#bl1)"/>
<circle cx="604" cy="143" r="5" fill="#f09030" opacity="0.9" filter="url(#bl1)"/>
<circle cx="408" cy="146" r="5" fill="#f0a020" opacity="0.9" filter="url(#bl1)"/>
<path d="M401.5 55 V727" stroke="#1e2a8a" stroke-width="1.6" opacity="0.55"/>
<path d="M131 160.2 L200 161 L260 161.4 L330 162.6 L397 163.5" stroke="#0a0a20" stroke-width="3" fill="none"/>
</g>
<path d="M580 380 L550.2 374" stroke="#000" stroke-width="1.5"/><path d="M537.5 371.5 L553.7 367.1 L550.7 381.8 Z" fill="#000"/>
<path d="M847 294 L818.9 285" stroke="#000" stroke-width="1.5"/><path d="M806.5 281 L823.1 278.4 L818.5 292.7 Z" fill="#000"/>
<path d="M636 458.5 L623.8 462.6" stroke="#000" stroke-width="1.5"/><path d="M611.5 466.8 L623.3 454.9 L628.1 469.1 Z" fill="#000"/>
<path d="M675.5 567 L674.7 537.5" stroke="#000" stroke-width="1.5"/><path d="M674.3 524.5 L682.2 539.3 L667.2 539.7 Z" fill="#000"/>
<path d="M523 606 L509.3 616.6" stroke="#000" stroke-width="1.5"/><path d="M499 624.5 L506.3 609.4 L515.5 621.3 Z" fill="#000"/>
<path d="M253 456 L239.5 444.7" stroke="#000" stroke-width="1.5"/><path d="M229.5 436.3 L245.8 440.2 L236.2 451.7 Z" fill="#000"/>
<path d="M219 381 L220.6 395.6" stroke="#000" stroke-width="1.5"/><path d="M222 408.5 L212.9 394.4 L227.8 392.8 Z" fill="#000"/>
<path d="M326 337 L326.3 317.5" stroke="#000" stroke-width="1.5"/><path d="M326.5 304.5 L333.8 319.6 L318.8 319.4 Z" fill="#000"/>
<path d="M402 287 L419.2 268.8" stroke="#000" stroke-width="1.5"/><path d="M428.1 259.3 L423.3 275.4 L412.4 265.1 Z" fill="#000"/>
<path d="M386 209.5 L386.1 188.8" stroke="#000" stroke-width="1.5"/><path d="M386.2 175.8 L393.6 190.8 L378.6 190.8 Z" fill="#000"/>
<path d="M521 174 L523.3 176" stroke="#000" stroke-width="1.5"/><path d="M533 184.7 L516.8 180.3 L526.8 169.1 Z" fill="#000"/>
<path d="M589.1 146.1 L606.3 146.9 L596.1 160.5 Z" fill="#000"/>
<g font-family="'Liberation Sans', Arial, Helvetica, sans-serif" font-weight="bold" font-size="29" text-anchor="middle" fill="#000">
<circle cx="598" cy="393.5" r="18.8" fill="#fff" stroke="#000" stroke-width="1.4"/>
<text x="598" y="403.9">1</text>
<circle cx="865.6" cy="298.5" r="18.8" fill="#fff" stroke="#000" stroke-width="1.4"/>
<text x="865.6" y="308.9">2</text>
<circle cx="654" cy="465.7" r="18.8" fill="#fff" stroke="#000" stroke-width="1.4"/>
<text x="654" y="476.1">3</text>
<circle cx="676.4" cy="586.2" r="18.8" fill="#fff" stroke="#000" stroke-width="1.4"/>
<text x="676.4" y="596.6">4</text>
<circle cx="540.4" cy="613.4" r="18.8" fill="#fff" stroke="#000" stroke-width="1.4"/>
<text x="540.4" y="623.8">5</text>
<circle cx="266.2" cy="470" r="18.8" fill="#fff" stroke="#000" stroke-width="1.4"/>
<text x="266.2" y="480.4">6</text>
<circle cx="216.5" cy="362" r="18.8" fill="#fff" stroke="#000" stroke-width="1.4"/>
<text x="216.5" y="372.4">7</text>
<circle cx="324.5" cy="356.4" r="18.8" fill="#fff" stroke="#000" stroke-width="1.4"/>
<text x="324.5" y="366.8">8</text>
<circle cx="394.9" cy="304.6" r="18.8" fill="#fff" stroke="#000" stroke-width="1.4"/>
<text x="394.9" y="315">9</text>
<circle cx="386.5" cy="228.5" r="18.8" fill="#fff" stroke="#000" stroke-width="1.4"/>
<text x="386.5" y="238.9" letter-spacing="-1">10</text>
<circle cx="508.1" cy="162.1" r="18.8" fill="#fff" stroke="#000" stroke-width="1.4"/>
<text x="508.1" y="172.5" letter-spacing="-1">11</text>
<circle cx="578.6" cy="169.9" r="18.8" fill="#fff" stroke="#000" stroke-width="1.4"/>
<text x="578.6" y="180.3" letter-spacing="-1">12</text>
</g>
<rect x="864.1" y="74.3" width="52.8" height="109.2" fill="#fff"/>
<text x="890.6" y="99.8" text-anchor="middle" font-family="'Liberation Sans', Arial, Helvetica, sans-serif" font-size="29.5" transform="translate(890.6 0) scale(0.83 1) translate(-890.6 0)">N</text>
<path d="M890.4 107.3 L869 176.4 L890 151 Z" fill="#000" stroke="#000" stroke-width="1" stroke-linejoin="round"/>
<path d="M890.4 107.3 L910.9 177.3 L890 151 Z" fill="none" stroke="#000" stroke-width="2" stroke-linejoin="miter"/>
<rect x="149.7" y="623.6" width="179.8" height="78.5" fill="#fff"/>
<g font-family="'Liberation Sans', Arial, Helvetica, sans-serif" font-size="28.5" fill="#000">
<text x="158.5" y="657.7">0</text><text x="194" y="657.7">25</text><text x="239.5" y="657.7">50</text><text x="282.5" y="657.7">km</text>
</g>
<path d="M165.8 684.5 H255.9" stroke="#000" stroke-width="2" fill="none"/><path d="M165.8 672.8 V695.7 M255.9 672.8 V695.7 M211.1 675.8 V692.8" stroke="#000" stroke-width="2.9" fill="none"/>
<circle cx="905.4" cy="687.7" r="18.6" fill="#fff" stroke="#000" stroke-width="1.3"/>
<text x="905.4" y="701" text-anchor="middle" font-family="'Liberation Sans', Arial, Helvetica, sans-serif" font-weight="bold" font-size="30">a</text>
<rect x="129.8" y="53.9" width="810.2" height="674.2" fill="none" stroke="#000" stroke-width="3.6"/>
<path d="M244.3 40.5 V52 M244.3 730 V741.5 M542 40.5 V52 M542 730 V741.5 M839.6 40.5 V52 M839.6 730 V741.5 M117.6 197.5 H128 M942 197.5 H952.2 M117.6 496 H128 M942 496 H952.2" stroke="#000" stroke-width="2.8"/>
<g font-family="'Liberation Sans', Arial, Helvetica, sans-serif" font-weight="bold" font-size="24.5" fill="#000" text-anchor="middle">
<text x="244.3" y="33.3">28°30'0"E</text>
<text x="244.3" y="766.5">28°30'0"E</text>
<text x="542" y="33.3">30°0'0"E</text>
<text x="542" y="766.5">30°0'0"E</text>
<text x="839.6" y="33.3">31°30'0"E</text>
<text x="839.6" y="766.5">31°30'0"E</text>
<text transform="translate(109.2 197.5) rotate(-90)">33°0'0"N</text>
<text transform="translate(977.5 197.5) rotate(-90)">33°0'0"N</text>
<text transform="translate(109.2 496) rotate(-90)">31°30'0"N</text>
<text transform="translate(977.5 496) rotate(-90)">31°30'0"N</text>
</g>
<g id="legrow">
<rect x="12.3" y="791.4" width="54.6" height="27" fill="#ff0000" stroke="#777" stroke-width="1.3"/>
<rect x="394.5" y="791.4" width="55" height="27" fill="#00ff00" stroke="#777" stroke-width="1.3"/>
<rect x="760.8" y="791.4" width="55" height="27" fill="#0000ff" stroke="#777" stroke-width="1.3"/>
<g font-family="'Liberation Sans', Arial, Helvetica, sans-serif" font-weight="bold" font-size="30.3" fill="#000">
<text x="78.4" y="816">Red: Pyroxene Ratio</text>
<text x="459" y="816">Green: Spinel Ratio</text>
<text x="826.7" y="816">Blue: PAN Ratio</text>
</g></g>
<g id="pd">
<path d="M171.4 868.5 V1342.6 H978.5" fill="none" stroke="#3c3c3c" stroke-width="4.4"/>
<path d="M171.4 870 V1341 M173 1342.6 H977" fill="none" stroke="#bbb" stroke-width="1.3" stroke-dasharray="1.3 2.7"/>
<path d="M538.9 925 V1241 M691.5 925 V1241" stroke="#222" stroke-width="1.9" stroke-dasharray="14 16.2" fill="none"/>
<path d="M254.4 1287.7 l7.2 7.2 l-7.2 7.2 l-7.2 -7.2 Z M261.1 1292 l7.2 7.2 l-7.2 7.2 l-7.2 -7.2 Z M255.6 1301.1 l7.2 7.2 l-7.2 7.2 l-7.2 -7.2 Z M274.4 1298.1 l7.2 7.2 l-7.2 7.2 l-7.2 -7.2 Z M284.8 1293.8 l7.2 7.2 l-7.2 7.2 l-7.2 -7.2 Z M288.5 1300.5 l7.2 7.2 l-7.2 7.2 l-7.2 -7.2 Z M296.4 1290.8 l7.2 7.2 l-7.2 7.2 l-7.2 -7.2 Z M304.3 1287.7 l7.2 7.2 l-7.2 7.2 l-7.2 -7.2 Z M320.1 1290.8 l7.2 7.2 l-7.2 7.2 l-7.2 -7.2 Z M328.6 1286.5 l7.2 7.2 l-7.2 7.2 l-7.2 -7.2 Z M329.2 1279.2 l7.2 7.2 l-7.2 7.2 l-7.2 -7.2 Z M335.9 1281.6 l7.2 7.2 l-7.2 7.2 l-7.2 -7.2 Z M345.1 1277.4 l7.2 7.2 l-7.2 7.2 l-7.2 -7.2 Z M335.3 1265.2 l7.2 7.2 l-7.2 7.2 l-7.2 -7.2 Z M377.3 1262.8 l7.2 7.2 l-7.2 7.2 l-7.2 -7.2 Z M392 1248.8 l7.2 7.2 l-7.2 7.2 l-7.2 -7.2 Z M396.8 1264 l7.2 7.2 l-7.2 7.2 l-7.2 -7.2 Z M406.6 1264 l7.2 7.2 l-7.2 7.2 l-7.2 -7.2 Z M423 1262.8 l7.2 7.2 l-7.2 7.2 l-7.2 -7.2 Z M558.5 1201.7 l7.2 7.2 l-7.2 7.2 l-7.2 -7.2 Z M574.5 1191 l7.2 7.2 l-7.2 7.2 l-7.2 -7.2 Z" fill="none" stroke="#4a7ebb" stroke-width="2.5"/>
<path d="M282.4 1279.9 L289.4 1292.4 L275.4 1292.4 Z M304.3 1275.6 L311.3 1288.1 L297.3 1288.1 Z M342.6 1262.2 L349.6 1274.7 L335.6 1274.7 Z M355.4 1261.6 L362.4 1274.1 L348.4 1274.1 Z M368.8 1258.6 L375.8 1271.1 L361.8 1271.1 Z M398 1244.6 L405 1257.1 L391 1257.1 Z M430.3 1244 L437.3 1256.5 L423.3 1256.5 Z M462.2 1224.6 L469.2 1237.1 L455.2 1237.1 Z M476.7 1232.2 L483.7 1244.7 L469.7 1244.7 Z M495 1227.6 L502 1240.1 L488 1240.1 Z M508.8 1205.5 L515.8 1218 L501.8 1218 Z M523.3 1194.8 L530.3 1207.3 L516.3 1207.3 Z M542.4 1194.8 L549.4 1207.3 L535.4 1207.3 Z" fill="none" stroke="#9bbb59" stroke-width="2.5"/>
<path d="M418 1241.2 h11.2 v11.2 h-11.2 Z M416.8 1283.2 h11.2 v11.2 h-11.2 Z M469.2 1190.1 h11.2 v11.2 h-11.2 Z M453.9 1254.6 h11.2 v11.2 h-11.2 Z M460.6 1244.3 h11.2 v11.2 h-11.2 Z M458.9 1231.6 h11.2 v11.2 h-11.2 Z M476.4 1233.1 h11.2 v11.2 h-11.2 Z M485.6 1242.3 h11.2 v11.2 h-11.2 Z M507 1208.7 h11.2 v11.2 h-11.2 Z M496.3 1217.1 h11.2 v11.2 h-11.2 Z M503.2 1170.4 h11.2 v11.2 h-11.2 Z M571.2 1113.9 h11.2 v11.2 h-11.2 Z M573.5 1162 h11.2 v11.2 h-11.2 Z M559 1172.7 h11.2 v11.2 h-11.2 Z M632.8 1064.2 h11.2 v11.2 h-11.2 Z M685.1 1053.5 h11.2 v11.2 h-11.2 Z M642.3 1109.3 h11.2 v11.2 h-11.2 Z M799.3 923 h11.2 v11.2 h-11.2 Z M785.5 947.9 h11.2 v11.2 h-11.2 Z M792 957.9 h11.2 v11.2 h-11.2 Z M747 953.5 h11.2 v11.2 h-11.2 Z M757.3 955.5 h11.2 v11.2 h-11.2 Z M735.3 963.7 h11.2 v11.2 h-11.2 Z M722.8 975.8 h11.2 v11.2 h-11.2 Z M711.8 982.8 h11.2 v11.2 h-11.2 Z M771.9 969.6 h11.2 v11.2 h-11.2 Z M785.5 981.6 h11.2 v11.2 h-11.2 Z M736.5 994.8 h11.2 v11.2 h-11.2 Z M714 1004.3 h11.2 v11.2 h-11.2 Z M725 1006.2 h11.2 v11.2 h-11.2 Z M759.5 1004.3 h11.2 v11.2 h-11.2 Z M767.5 1004.3 h11.2 v11.2 h-11.2 Z M700.1 1017.5 h11.2 v11.2 h-11.2 Z M714.8 1015.3 h11.2 v11.2 h-11.2 Z M747.7 1019 h11.2 v11.2 h-11.2 Z M715.5 1041 h11.2 v11.2 h-11.2 Z M704.5 1052.7 h11.2 v11.2 h-11.2 Z M684.7 1052.7 h11.2 v11.2 h-11.2 Z" fill="none" stroke="#be4b48" stroke-width="2.6"/>
<path d="M558.6 1160.9 l12 12 M558.6 1172.9 l12 -12 M585.3 1166.2 l12 12 M585.3 1178.2 l12 -12 M664.8 1100.5 l12 12 M664.8 1112.5 l12 -12 M658.7 1125 l12 12 M658.7 1137 l12 -12 M634.2 1138 l12 12 M634.2 1150 l12 -12 M761.3 897 l12 12 M761.3 909 l12 -12 M810.3 886 l12 12 M810.3 898 l12 -12 M845.5 916 l12 12 M845.5 928 l12 -12 M851.4 921.1 l12 12 M851.4 933.1 l12 -12 M870.4 925.5 l12 12 M870.4 937.5 l12 -12 M807.4 924.8 l12 12 M807.4 936.8 l12 -12 M809.6 935.1 l12 12 M809.6 947.1 l12 -12 M745.9 976.1 l12 12 M745.9 988.1 l12 -12 M774.4 985.3 l12 12 M774.4 997.3 l12 -12 M761.3 995.9 l12 12 M761.3 1007.9 l12 -12 M766.4 1003.9 l12 12 M766.4 1015.9 l12 -12 M781 995.9 l12 12 M781 1007.9 l12 -12 M784.7 1000.3 l12 12 M784.7 1012.3 l12 -12 M780.3 1025.9 l12 12 M780.3 1037.9 l12 -12 M787.6 1028.1 l12 12 M787.6 1040.1 l12 -12 M805.2 1028.1 l12 12 M805.2 1040.1 l12 -12 M765.7 1037.9 l12 12 M765.7 1049.9 l12 -12 M739.6 1069.5 l12 12 M739.6 1081.5 l12 -12 M761.4 1063.6 l12 12 M761.4 1075.6 l12 -12 M769.6 1069.1 l12 12 M769.6 1081.1 l12 -12 M775.4 1066.3 l12 12 M775.4 1078.3 l12 -12 M754.8 1080.8 l12 12 M754.8 1092.8 l12 -12 M733.8 1091.3 l12 12 M733.8 1103.3 l12 -12" fill="none" stroke="#7d60a0" stroke-width="2.4"/>
<g fill="none" stroke="#f39a4c" stroke-width="2.4"><circle cx="549.8" cy="1178.3" r="5.8"/><circle cx="643" cy="1081.3" r="5.8"/><circle cx="632.6" cy="1097.3" r="5.8"/><circle cx="664.4" cy="1113.1" r="5.8"/><circle cx="668.5" cy="1120.3" r="5.8"/><circle cx="677.7" cy="1122.5" r="5.8"/><circle cx="643.3" cy="1123.3" r="5.8"/><circle cx="646.4" cy="1131" r="5.8"/><circle cx="643.3" cy="1138.6" r="5.8"/><circle cx="664.4" cy="1143.2" r="5.8"/><circle cx="649" cy="940" r="5.8"/></g>
<path d="M393.3 1228 l12 12 M393.3 1240 l12 -12 M399.3 1227 v14" fill="none" stroke="#4bacc6" stroke-width="2.6"/>
<g font-family="'Liberation Sans', Arial, Helvetica, sans-serif" font-weight="bold" font-size="19.9" text-anchor="middle" fill="#111">
<text x="320" y="1085.3">Posidonius Crater</text>
<text x="320" y="1108.2">Central Peak</text>
<text x="320.5" y="1132.6">(Fresh Materials)</text>
</g>
<path d="M331 1150 L381 1209" stroke="#000" stroke-width="1.6"/>
<path d="M390.7 1220.6 L373.7 1212.3 L387.2 1202.5 Z" fill="#000"/>
<g font-family="'Liberation Serif', 'Times New Roman', serif" font-weight="bold" font-size="25.2" text-anchor="end" fill="#000">
<text x="148.3" y="877.6">1.08</text>
<text x="148.3" y="924.9">1.06</text>
<text x="148.3" y="972.2">1.04</text>
<text x="148.3" y="1019.5">1.02</text>
<text x="148.3" y="1066.8">1</text>
<text x="148.3" y="1114.1">0.98</text>
<text x="148.3" y="1161.5">0.96</text>
<text x="148.3" y="1208.8">0.94</text>
<text x="148.3" y="1256.1">0.92</text>
<text x="148.3" y="1303.4">0.9</text>
<text x="148.3" y="1350.7">0.88</text>
</g>
<g font-family="'Liberation Serif', 'Times New Roman', serif" font-weight="bold" font-size="25.5" text-anchor="middle" fill="#000">
<text x="171.4" y="1382.4">1.7</text>
<text x="272.4" y="1382.4">1.8</text>
<text x="373.3" y="1382.4">1.9</text>
<text x="474.3" y="1382.4">2</text>
<text x="575.2" y="1382.4">2.1</text>
<text x="676.2" y="1382.4">2.2</text>
<text x="777.2" y="1382.4">2.3</text>
<text x="878.1" y="1382.4">2.4</text>
<text x="979.1" y="1382.4">2.5</text>
<text x="575.7" y="1419">Band II Center (µm)</text>
<text transform="translate(93.5 1104.9) rotate(-90)">Band I Center (µm)</text>
</g>
<circle cx="965.5" cy="1310" r="19.5" fill="#fff" stroke="#222" stroke-width="1.2"/>
<text x="965.8" y="1323.5" text-anchor="middle" font-family="'Liberation Sans', Arial, Helvetica, sans-serif" font-size="30">d</text>
<path d="M122 1463.7 l6.5 6.5 l-6.5 6.5 l-6.5 -6.5 Z" fill="none" stroke="#4a7ebb" stroke-width="2.2"/>
<path d="M122 1502.9 L128.5 1515.4 L115.5 1515.4 Z" fill="none" stroke="#9bbb59" stroke-width="2.2"/>
<path d="M116.5 1542 l11 11 M116.5 1553 l11 -11 M122 1541 v13" fill="none" stroke="#4bacc6" stroke-width="2.4"/>
<path d="M536.9 1464 h12.4 v12.4 h-12.4 Z" fill="none" stroke="#be4b48" stroke-width="2.2"/>
<path d="M536.9 1503.2 l12.4 12.4 M536.9 1515.6 l12.4 -12.4" fill="none" stroke="#7d60a0" stroke-width="2.2"/>
<circle cx="543.1" cy="1547.5" r="6.3" fill="none" stroke="#f39a4c" stroke-width="2.2"/>
<g font-family="'Liberation Serif', 'Times New Roman', serif" font-weight="bold" font-size="22" fill="#000" letter-spacing="0.9">
<text x="134.7" y="1477.3">OPX_Adams</text>
<text x="134.7" y="1516.1">OPX_Klima</text>
<text x="134.2" y="1554.4">Posidonius Crater Central Peak</text>
<text x="555.9" y="1477.3">CPX_Adams</text>
<text x="555.9" y="1516.1">CPX_Klima</text>
<text x="555.9" y="1554.4">Posidonius Crater Moat Fresh Craters</text>
</g>
</g>
<g id="pb">
<g fill="none" stroke-width="2.7" stroke-linejoin="round" stroke-linecap="round">
<path d="M1234.3 685.1 C1239.4 680.9 1254 668.8 1265 660 C1276 651.2 1291.1 634.9 1300.3 632.4 C1309.5 629.9 1312.4 640.8 1320 645 C1327.6 649.2 1338.3 656.4 1346.1 657.6 C1353.9 658.8 1355.6 662.8 1366.8 652 C1378 641.2 1396.8 609 1413.5 592.6 C1430.2 576.2 1449.2 565.3 1467 553.4 C1484.8 541.5 1502.7 529 1520.5 521.3 C1538.3 513.6 1556.2 509.5 1574 507 C1591.8 504.5 1613.3 506.3 1627.6 506.1 C1641.9 505.9 1645 508.8 1660 505.7 C1675 502.6 1696.3 497.6 1717.3 487.3 C1738.3 477 1765.1 461.8 1786.1 443.8 C1807.1 425.8 1824.4 398.6 1843.5 379.5 C1862.6 360.4 1883.4 343.1 1900.8 329.1 C1918.2 315.2 1940 301.4 1947.8 295.8" stroke="#cc78d4"/>
<path d="M1234.3 693.2 C1239.4 688.5 1254.2 674.6 1265 665 C1275.8 655.4 1289.9 639.1 1299.1 635.8 C1308.3 632.5 1312.2 641.6 1320 645 C1327.8 648.4 1338.3 654.6 1346.1 655.9 C1353.9 657.2 1355.6 665 1366.8 653 C1378 641 1396.8 601.5 1413.5 583.7 C1430.2 565.9 1449.2 557.9 1467 546.3 C1484.8 534.7 1502.7 522.4 1520.5 514.2 C1538.3 506 1556.2 500.5 1574 497.2 C1591.8 493.9 1613.3 495.8 1627.6 494.5 C1641.9 493.2 1645 492.3 1660 489.6 C1675 486.9 1698.2 485.8 1717.3 478.2 C1736.4 470.6 1753.7 459.9 1774.7 443.8 C1795.7 427.7 1822.5 402.1 1843.5 381.8 C1864.5 361.5 1883.4 340.6 1900.8 322.2 C1918.2 303.8 1940 280.1 1947.8 271.7" stroke="#7ee8d4"/>
<path d="M1234.3 689 C1239.4 683.3 1253.9 667.2 1265 655 C1276.1 642.8 1291.9 620.3 1301 616 C1310.1 611.7 1314.2 623.8 1319.8 629 C1325.4 634.2 1329.3 643.3 1334.7 647.3 C1340.1 651.3 1346.6 652.4 1351.9 653 C1357.2 653.6 1362.5 652.1 1366.8 650.7 C1371.1 649.3 1370 651.1 1377.8 644.4 C1385.6 637.7 1398.6 622.1 1413.5 610.5 C1428.4 598.9 1449.2 586.4 1467 574.8 C1484.8 563.2 1502.7 550.1 1520.5 540.9 C1538.3 531.7 1556.2 524.2 1574 519.5 C1591.8 514.8 1613.3 513.9 1627.6 512.4 C1641.9 510.9 1651.3 511.2 1660 510.3 C1668.7 509.4 1668.5 509.7 1680 507 C1691.5 504.3 1711.1 503.6 1728.8 494.2 C1746.5 484.8 1767 467.4 1786.1 450.6 C1805.2 433.8 1824.4 409.7 1843.5 393.3 C1862.6 376.9 1883.4 360.4 1900.8 352 C1918.2 343.6 1940 344.3 1947.8 342.8" stroke="#22dce8"/>
<path d="M1234.3 680.6 C1238.6 677.2 1251.5 667.4 1260 660 C1268.5 652.6 1278.1 641.9 1285 636 C1291.9 630.1 1296.4 625.1 1301.4 624.4 C1306.4 623.7 1310.8 629 1315 632 C1319.2 635 1322.5 640 1326.7 642.7 C1330.9 645.4 1336.2 648.4 1340.4 648.4 C1344.6 648.4 1347.9 646.9 1351.9 642.7 C1355.9 638.5 1360.2 631 1364.5 623.2 C1368.8 615.5 1372.6 607.5 1377.8 596.2 C1383 584.9 1389.8 564.7 1395.7 555.2 C1401.7 545.7 1404.6 545.9 1413.5 539.1 C1422.4 532.3 1439 519.9 1449.2 514.2 C1459.5 508.5 1466.1 507.2 1475 505 C1483.9 502.8 1492.1 500.5 1502.7 500.8 C1513.3 501.1 1526.5 503.9 1538.4 507 C1550.3 510.1 1562.1 517 1574 519.5 C1585.9 522 1600.2 521.9 1609.7 522.2 C1619.2 522.5 1622.2 523.5 1631.1 521.3 C1640 519.1 1655 513.3 1663.2 508.8 C1671.4 504.3 1672.9 501.1 1680 494.5 C1687.1 487.9 1695.9 477.4 1705.9 469 C1716 460.6 1726.9 454.1 1740.3 443.8 C1753.7 433.5 1770.8 417.1 1786.1 407.1 C1801.4 397.2 1820.5 388.3 1832 384.1 C1843.5 379.9 1845.4 380.7 1855 381.8 C1864.6 382.9 1877.9 386.8 1889.4 391 C1900.9 395.2 1914.1 404 1923.8 407.1 C1933.5 410.2 1943.8 409 1947.8 409.4" stroke="#dd1a1a"/>
<path d="M1234.3 671.4 C1239.4 666.5 1253.8 652 1265 642 C1276.2 632 1289.8 614.8 1301.4 611.7 C1313 608.6 1326.3 621 1334.7 623.2 C1343.1 625.4 1346.6 625.5 1351.9 624.9 C1357.2 624.3 1360.5 625.6 1366.8 619.8 C1373.1 614 1382.2 599.9 1390 590 C1397.8 580.1 1400.7 571.4 1413.5 560.5 C1426.3 549.6 1449.2 536.8 1467 524.9 C1484.8 513 1505.6 497.5 1520.5 489.2 C1535.4 480.9 1544.3 477.6 1556.2 474.9 C1568.1 472.2 1577 473.7 1591.9 473.1 C1606.8 472.5 1634.1 471.7 1645.4 471.4 C1656.8 471.1 1648 473.6 1660 471.3 C1672 469 1698.2 464.8 1717.3 457.5 C1736.4 450.2 1753.7 442.2 1774.7 427.7 C1795.7 413.2 1822.5 388.8 1843.5 370.4 C1864.5 352 1883.4 334.8 1900.8 317.6 C1918.2 300.4 1940 275.4 1947.8 267" stroke="#8a2ed2"/>
<path d="M1234.3 679 C1239.4 673.3 1253.8 655.5 1265 645 C1276.2 634.5 1292.2 619.8 1301.4 616 C1310.6 612.2 1312.9 620.2 1320 622 C1327.1 623.8 1336.1 628.2 1343.9 627 C1351.7 625.8 1359.1 622.8 1366.8 615 C1374.5 607.2 1382.2 589.5 1390 580 C1397.8 570.5 1399.2 569.6 1413.5 558 C1427.8 546.4 1453.7 526.5 1476 510.6 C1498.3 494.7 1522 472.1 1547.3 462.4 C1572.6 452.7 1608.8 455 1627.6 452.6 C1646.4 450.2 1645 451.3 1660 448.3 C1675 445.3 1696.3 445.7 1717.3 434.6 C1738.3 423.5 1765.1 399.8 1786.1 381.8 C1807.1 363.8 1824.4 346.3 1843.5 326.8 C1862.6 307.3 1883.4 281.1 1900.8 264.9 C1918.2 248.6 1940 235.2 1947.8 229.3" stroke="#3c7c5a"/>
<path d="M1234.3 677 C1239.4 671.7 1253.8 656.6 1265 645 C1276.2 633.4 1292.2 611.4 1301.4 607.2 C1310.6 603 1313.5 616.4 1320 620 C1326.5 623.6 1332.6 630 1340.4 629 C1348.2 628 1358.5 623 1366.8 614 C1375.1 605 1382.2 585.2 1390 575 C1397.8 564.8 1400.7 563.5 1413.5 553 C1426.3 542.5 1444.7 526.8 1467 512 C1489.3 497.2 1529.5 472 1547.3 464 C1565.1 456 1560.6 464.6 1574 464.2 C1587.4 463.8 1613.3 462.2 1627.6 461.5 C1641.9 460.8 1645 463.1 1660 459.8 C1675 456.5 1698.2 451.8 1717.3 441.5 C1736.4 431.2 1753.7 418.2 1774.7 397.9 C1795.7 377.6 1822.5 344.8 1843.5 319.9 C1864.5 295 1883.4 266 1900.8 248.8 C1918.2 231.6 1940 222 1947.8 216.7" stroke="#f2ee10"/>
<path d="M1234.3 678.3 C1239.4 672.8 1253.8 655.7 1265 645 C1276.2 634.3 1292.2 618.2 1301.4 614 C1310.6 609.8 1312.9 618 1320 620 C1327.1 622 1336.1 627.1 1343.9 626.1 C1351.7 625.1 1359.1 622 1366.8 614 C1374.5 606 1382.2 587.8 1390 578 C1397.8 568.2 1400.7 566.4 1413.5 555.2 C1426.3 544 1446.2 525.5 1467 510.6 C1487.8 495.7 1520.6 475.5 1538.4 466 C1556.2 456.5 1559.1 456.6 1574 453.5 C1588.9 450.4 1613.3 449.3 1627.6 447.3 C1641.9 445.3 1645 445.1 1660 441.5 C1675 437.9 1698.2 435.3 1717.3 425.4 C1736.4 415.4 1755.6 399 1774.7 381.8 C1793.8 364.6 1812.9 341.7 1832 322.2 C1851.1 302.7 1870.1 280.9 1889.4 264.9 C1908.7 248.8 1938.1 232.4 1947.8 225.9" stroke="#ee7a50"/>
<path d="M1234.3 623.2 C1239.4 617.7 1254 602 1265 590 C1276 578 1290.6 552.5 1300.3 551 C1310 549.5 1316.5 573.7 1323.2 580.8 C1329.9 587.9 1333.3 592.2 1340.4 593.4 C1347.5 594.5 1357.3 592.4 1365.6 587.7 C1373.9 583 1382 573.1 1390 565 C1398 556.9 1400.7 550.9 1413.5 539.1 C1426.3 527.4 1448.3 507.1 1467 494.5 C1485.7 481.9 1511 467.8 1525.9 463.3 C1540.8 458.9 1545.2 464.7 1556.2 467.8 C1567.2 470.9 1578.5 478.4 1591.9 482.1 C1605.3 485.8 1625.2 488.9 1636.5 490.1 C1647.8 491.4 1652.8 489.9 1660 489.6 C1667.2 489.3 1670.5 489.9 1680 488.3 C1689.5 486.7 1701.5 486.7 1717.3 480 C1733.1 473.3 1753.7 465.8 1774.7 448.3 C1795.7 430.8 1822.5 394.9 1843.5 375 C1864.5 355.1 1883.4 340.2 1900.8 329.1 C1918.2 318 1940 311.8 1947.8 308.4" stroke="#a0405e"/>
<path d="M1234.3 657.6 C1240.2 651.3 1258.4 631.3 1270 620 C1281.6 608.7 1294.8 593.5 1303.7 590 C1312.6 586.5 1317.1 596.7 1323.2 599.1 C1329.3 601.5 1333.1 606 1340.4 604.3 C1347.7 602.6 1359.1 596.1 1366.8 588.8 C1374.5 581.5 1379.3 570.3 1386.8 560.5 C1394.3 550.7 1401.3 540.9 1411.7 530.2 C1422.1 519.5 1435.5 507.3 1449.2 496.3 C1462.9 485.3 1480.4 473.6 1493.8 464.2 C1507.2 454.8 1517.6 445 1529.5 440.1 C1541.4 435.2 1548.8 435.7 1565.1 434.8 C1581.4 433.9 1611.8 436 1627.6 434.8 C1643.4 433.6 1651.3 429.6 1660 427.7 C1668.7 425.8 1672.3 424.7 1680 423.2 C1687.7 421.7 1692.8 425.4 1705.9 418.5 C1719 411.6 1741.4 398.2 1758.6 381.8 C1775.8 365.4 1793 338.2 1809.1 319.9 C1825.2 301.5 1839.7 287.8 1855 271.7 C1870.3 255.6 1887.4 237 1900.8 223.6 C1914.2 210.2 1927.4 197.4 1935.2 191.5 C1943 185.6 1945.7 188.6 1947.8 188" stroke="#e01ee0"/>
<path d="M1234.3 639.3 C1239.4 633.6 1254.4 616.7 1265 605 C1275.6 593.3 1288.3 572.4 1298 569.3 C1307.7 566.2 1315.5 582.7 1323.2 586.5 C1330.9 590.3 1336.6 593.6 1343.9 592.2 C1351.2 590.8 1359.7 584.5 1366.8 578 C1373.9 571.5 1379.9 563.1 1386.8 553.4 C1393.7 543.7 1399.1 531.3 1408 520 C1416.9 508.7 1430.5 494.6 1440.3 485.6 C1450.1 476.6 1457.2 473.1 1467 466 C1476.8 458.9 1489.3 450.2 1499.1 442.8 C1508.9 435.4 1517.6 426.1 1525.9 421.4 C1534.2 416.6 1541.1 414.9 1549.1 414.3 C1557.1 413.7 1566 416.5 1574 417.8 C1582 419.1 1589.9 421.6 1597.3 422.3 C1604.7 423.1 1610.6 422.8 1618.6 422.3 C1626.6 421.9 1638.5 420.6 1645.4 419.6 C1652.3 418.6 1654.2 417.5 1660 416.2 C1665.8 414.9 1672.3 414.3 1680 411.6 C1687.7 408.9 1692.8 408.6 1705.9 400.2 C1719 391.8 1743.3 375 1758.6 361.2 C1773.9 347.4 1782.3 335.6 1797.6 317.6 C1812.9 299.6 1833.2 272.1 1850.4 253.4 C1867.6 234.7 1888.6 217.4 1900.8 205.2 C1913 193 1916.1 188.4 1923.8 180 C1931.5 171.6 1943.1 159.2 1947 155" stroke="#1414b4"/>
<path d="M1234.6 467.4 C1237.8 462.7 1246.7 451.2 1253.6 439.4 C1260.5 427.6 1271.2 404.6 1276 396.8 C1280.8 389 1279.3 394.6 1282.7 392.4 C1286.1 390.2 1292.8 384.5 1296.2 383.4 C1299.6 382.3 1299.9 381.1 1302.9 385.6 C1305.9 390.1 1310.4 402.1 1314.1 410.3 C1317.8 418.5 1321.6 429.5 1325.3 434.9 C1329 440.3 1333.1 441.9 1336.5 442.8 C1339.9 443.7 1340.7 443.3 1345.5 440.5 C1350.3 437.7 1359.6 432.5 1365.6 426 C1371.6 419.5 1376.4 410.6 1381.3 401.3 C1386.2 392 1389.9 381.6 1394.8 370 C1399.7 358.4 1405.7 341.2 1410.5 331.9 C1415.3 322.5 1418.3 318.8 1423.9 313.9 C1429.5 309 1437.8 306 1444.1 302.7 C1450.4 299.4 1456.4 297.5 1462 293.8 C1467.6 290.1 1472.3 284.2 1477.7 280.3 C1483.1 276.4 1489.7 270.9 1494.5 270.2 C1499.3 269.5 1503.6 274.9 1506.8 275.9 C1510 276.8 1509 276.8 1513.5 275.9 C1518 274.9 1528.1 270.9 1533.7 270.2 C1539.3 269.4 1541.5 269.3 1547.1 271.4 C1552.7 273.5 1559.1 278.1 1567.3 282.6 C1575.5 287.1 1588.6 295 1596.4 298.3 C1604.2 301.6 1607.7 302.3 1614.4 302.7 C1621.1 303.1 1629.3 302.4 1636.8 300.5 C1644.3 298.6 1652 294.9 1659.2 291.5 C1666.4 288.1 1674.1 283.2 1680 280.3 C1685.9 277.4 1686.3 279.2 1694.4 274 C1702.5 268.8 1717.3 259.5 1728.8 248.8 C1740.3 238.1 1752 223 1763.2 209.8 C1774.4 196.6 1784.9 182 1796 169.4 C1807.1 156.8 1817.9 146.1 1830 134 C1842.1 121.9 1855.3 108.8 1868.6 96.8 C1881.9 84.8 1897.1 72.9 1910 62 C1922.9 51.1 1940 36.6 1946 31.5" stroke="#22dd22"/>
</g>
<path d="M1367.9 15.8 V708 M1660.4 15.8 V708" stroke="#222" stroke-width="1.6" stroke-dasharray="14.9 15.4" fill="none"/>
<g font-family="'Liberation Sans', Arial, Helvetica, sans-serif" font-size="27" fill="#000">
<rect x="1196.7" y="13.1" width="804.5" height="695.8" fill="none" stroke="#000" stroke-width="2.6"/>
<path d="M1221.6 708.9 v-13 M1221.6 13.1 v13 M1258.2 708.9 v-6.5 M1258.2 13.1 v6.5 M1294.7 708.9 v-6.5 M1294.7 13.1 v6.5 M1331.3 708.9 v-6.5 M1331.3 13.1 v6.5 M1367.9 708.9 v-13 M1367.9 13.1 v13 M1404.4 708.9 v-6.5 M1404.4 13.1 v6.5 M1441 708.9 v-6.5 M1441 13.1 v6.5 M1477.6 708.9 v-6.5 M1477.6 13.1 v6.5 M1514.2 708.9 v-13 M1514.2 13.1 v13 M1550.7 708.9 v-6.5 M1550.7 13.1 v6.5 M1587.3 708.9 v-6.5 M1587.3 13.1 v6.5 M1623.9 708.9 v-6.5 M1623.9 13.1 v6.5 M1660.4 708.9 v-13 M1660.4 13.1 v13 M1697 708.9 v-6.5 M1697 13.1 v6.5 M1733.6 708.9 v-6.5 M1733.6 13.1 v6.5 M1770.1 708.9 v-6.5 M1770.1 13.1 v6.5 M1806.7 708.9 v-13 M1806.7 13.1 v13 M1843.3 708.9 v-6.5 M1843.3 13.1 v6.5 M1879.9 708.9 v-6.5 M1879.9 13.1 v6.5 M1916.4 708.9 v-6.5 M1916.4 13.1 v6.5 M1953 708.9 v-13 M1953 13.1 v13 M1989.6 708.9 v-6.5 M1989.6 13.1 v6.5 M1196.7 526.1 h15 M2001.2 526.1 h-15 M1196.7 354.8 h15 M2001.2 354.8 h-15 M1196.7 183.4 h15 M2001.2 183.4 h-15 M1196.7 654.6 h7 M2001.2 654.6 h-7 M1196.7 611.8 h7 M2001.2 611.8 h-7 M1196.7 568.9 h7 M2001.2 568.9 h-7 M1196.7 483.3 h7 M2001.2 483.3 h-7 M1196.7 440.4 h7 M2001.2 440.4 h-7 M1196.7 397.6 h7 M2001.2 397.6 h-7 M1196.7 311.9 h7 M2001.2 311.9 h-7 M1196.7 269.1 h7 M2001.2 269.1 h-7 M1196.7 226.2 h7 M2001.2 226.2 h-7 M1196.7 140.6 h7 M2001.2 140.6 h-7 M1196.7 97.7 h7 M2001.2 97.7 h-7 M1196.7 54.9 h7 M2001.2 54.9 h-7" stroke="#000" stroke-width="2.6" fill="none"/>
<text x="1221.6" y="741.5" text-anchor="middle">500</text>
<text x="1367.9" y="741.5" text-anchor="middle">1000</text>
<text x="1514.2" y="741.5" text-anchor="middle">1500</text>
<text x="1660.4" y="741.5" text-anchor="middle">2000</text>
<text x="1806.7" y="741.5" text-anchor="middle">2500</text>
<text x="1953" y="741.5" text-anchor="middle">3000</text>
<text x="1186" y="535.8" text-anchor="end">0.10</text>
<text x="1186" y="364.5" text-anchor="end">0.15</text>
<text x="1186" y="193.1" text-anchor="end">0.20</text>
</g>
<text transform="translate(1105 378.5) rotate(-90)" text-anchor="middle" font-family="'Liberation Serif', 'Times New Roman', serif" font-weight="bold" font-size="30.2">Reflectance</text>
<g font-family="'Liberation Sans', Arial, Helvetica, sans-serif" font-size="23.5">
<text x="2007" y="48.1" fill="#dd1a1a">1</text>
<path d="M2006 54.5 h15" stroke="#dd1a1a" stroke-width="1.6"/>
<text x="2007" y="86.2" fill="#22dd22">2</text>
<path d="M2006 92.6 h15" stroke="#22dd22" stroke-width="1.6"/>
<text x="2007" y="124.3" fill="#1414b4">3</text>
<path d="M2006 130.7 h15" stroke="#1414b4" stroke-width="1.6"/>
<text x="2007" y="162.4" fill="#f2ee10">4</text>
<path d="M2006 168.8 h15" stroke="#f2ee10" stroke-width="1.6"/>
<text x="2007" y="200.5" fill="#22dce8">5</text>
<path d="M2006 206.9 h15" stroke="#22dce8" stroke-width="1.6"/>
<text x="2007" y="238.6" fill="#e01ee0">6</text>
<path d="M2006 245 h15" stroke="#e01ee0" stroke-width="1.6"/>
<text x="2007" y="275.2" fill="#a0405e">7</text>
<path d="M2006 281.6 h15" stroke="#a0405e" stroke-width="1.6"/>
<text x="2007" y="313.3" fill="#3c7c5a">8</text>
<path d="M2006 319.7 h15" stroke="#3c7c5a" stroke-width="1.6"/>
<text x="2007" y="348.4" fill="#8a2ed2">9</text>
<path d="M2006 354.8 h15" stroke="#8a2ed2" stroke-width="1.6"/>
<text x="2007" y="385.1" fill="#ee7a50">10</text>
<path d="M2006 391.5 h29" stroke="#ee7a50" stroke-width="1.6"/>
<text x="2007" y="423.1" fill="#7ee8d4">11</text>
<path d="M2006 429.5 h29" stroke="#7ee8d4" stroke-width="1.6"/>
<text x="2007" y="459.8" fill="#cc78d4">12</text>
<path d="M2006 466.2 h29" stroke="#cc78d4" stroke-width="1.6"/>
</g>
<circle cx="1945.6" cy="659.5" r="19.4" fill="#fff" stroke="#222" stroke-width="1.2"/>
<text x="1946.5" y="672.5" text-anchor="middle" font-family="'Liberation Sans', Arial, Helvetica, sans-serif" font-weight="bold" font-size="30">b</text>
</g>
<g id="pc">
<g fill="none" stroke-width="2.4" stroke-linejoin="round" stroke-linecap="round">
<path d="M1234.6 828 L1247 860 L1269.7 828 L1290 833 L1302 828 C1303.4 845.2 1313.2 957.8 1316 1000 C1318.8 1042.2 1327.3 1213.4 1330 1250 C1332.7 1286.6 1341 1351.3 1343 1366.3 C1345 1381.3 1348.1 1395.6 1350 1400 C1351.9 1404.4 1360.1 1410.8 1362.3 1409.9 C1364.5 1409 1369.3 1404.6 1372 1390.6 C1374.7 1376.6 1386.1 1291.3 1389 1269.5 C1391.9 1247.7 1399.1 1189.5 1401 1172.6 C1402.9 1155.6 1407.1 1110.8 1408.3 1100 C1409.5 1089.2 1410.7 1072.2 1412.5 1064.6 C1414.3 1057 1423.1 1033.6 1426.8 1023.8 C1430.5 1014 1444.5 974.5 1449.2 966.8 C1453.9 959.1 1469.1 951.3 1473.6 946.4 C1478.1 941.5 1489.9 923.1 1494 917.8 C1498.1 912.5 1511.1 896.9 1514.4 893.4 C1517.7 889.9 1524.1 883.6 1526.6 883.2 C1529 882.8 1536.5 886.4 1538.9 889.3 C1541.4 892.1 1548.4 904.4 1551.1 911.7 C1553.8 919 1561.9 952.5 1565.4 962.7 C1568.9 972.9 1582.2 1004.4 1585.7 1013.6 C1589.2 1022.8 1595.4 1041.5 1600 1054.4 C1604.6 1067.3 1625.1 1125.6 1631.3 1142.6 C1637.5 1159.6 1656.8 1212.9 1661.9 1224.1 C1667 1235.3 1677.1 1250.6 1682.2 1254.7 C1687.3 1258.8 1707.7 1264.1 1712.8 1264.9 C1717.9 1265.7 1729.1 1264.8 1733.2 1262.8 C1737.3 1260.8 1748.5 1252.4 1753.6 1244.5 C1758.7 1236.6 1779.5 1193.6 1784.1 1183.4 C1788.7 1173.2 1795.4 1154.9 1800 1142.6 C1804.6 1130.3 1824 1075.8 1830 1060 C1836 1044.2 1854 1000 1860 985 C1866 970 1884.5 922.7 1890 910 C1895.5 897.3 1910.5 865.8 1915 858 C1919.5 850.2 1931.2 835 1935 832 C1938.8 829 1950.8 828.4 1952.6 828" stroke="#cc78d4"/>
<path d="M1234.6 828 L1247 862 L1269.7 828 L1290 833 L1302 828 C1303.6 845.2 1315 962.8 1318 1000 C1321 1037.2 1329.3 1170 1332 1200 C1334.7 1230 1342.2 1286.8 1345 1300 C1347.8 1313.2 1356.7 1335.5 1359.9 1332.4 C1363.1 1329.4 1373.8 1285.5 1376.9 1269.5 C1380.1 1253.5 1389.2 1189.5 1391.4 1172.6 C1393.6 1155.6 1395.9 1116.9 1398.6 1100 C1401.3 1083.1 1415 1022.3 1418.6 1003.5 C1422.2 984.7 1431.4 921.9 1434.9 911.7 C1438.4 901.5 1449.4 903.9 1453.3 901.5 C1457.2 899.1 1469.5 891.8 1473.6 887.3 C1477.7 882.8 1489.9 860.4 1494 856.7 C1498.1 853 1510.7 851.6 1514.4 850.6 C1518.1 849.6 1527.6 845.5 1530.7 846.5 C1533.8 847.5 1541.5 854.3 1545 860.8 C1548.5 867.3 1561.3 899.5 1565.4 911.7 C1569.5 923.9 1582.2 971.9 1585.7 983.1 C1589.2 994.3 1595.6 1012.1 1600 1023.8 C1604.4 1035.5 1623.8 1083.9 1630 1100 C1636.2 1116.1 1655.7 1172.5 1661.9 1185 C1668.1 1197.5 1687.3 1219.7 1692.4 1225 C1697.5 1230.3 1708.7 1236.9 1712.8 1238 C1716.9 1239.1 1729.1 1237.6 1733.2 1236 C1737.3 1234.4 1748.5 1227.8 1753.6 1222 C1758.7 1216.2 1779.5 1186.7 1784.1 1178 C1788.7 1169.3 1795.4 1147.3 1800 1135 C1804.6 1122.7 1824 1070.5 1830 1055 C1836 1039.5 1854 995 1860 980 C1866 965 1885 917.5 1890 905 C1895 892.5 1906.5 862.3 1910 855 C1913.5 847.7 1920.7 834.7 1925 832 C1929.3 829.3 1949.8 828.4 1952.6 828" stroke="#7ee8d4"/>
<path d="M1234.6 828 L1247 858 L1269.7 828 L1290 833 L1302 828 C1303.6 845.2 1314.7 958.8 1318 1000 C1321.3 1041.2 1331 1212.6 1335 1240 C1339 1267.4 1354 1271.5 1357.5 1274.3 C1361 1277.1 1367.6 1275.7 1370 1268 C1372.4 1260.3 1379.2 1215.7 1381.7 1196.9 C1384.2 1178.1 1392.1 1099.3 1395 1080 C1397.9 1060.7 1407.7 1019.3 1410.5 1003.5 C1413.3 987.7 1420 934.1 1422.7 921.9 C1425.4 909.7 1433.7 886.7 1437 881.2 C1440.3 875.7 1451.6 869.4 1455.3 866.9 C1459 864.4 1469.7 859.6 1473.6 856.7 C1477.5 853.8 1489.9 840.9 1494 838.3 C1498.1 835.6 1510.8 830.7 1514.4 830.2 C1518 829.7 1526.4 828 1530 833 C1533.6 838 1545.5 868.3 1550 880 C1554.5 891.7 1569.9 938 1575 950 C1580.1 962 1595.1 986.9 1600.7 1000 C1606.3 1013.1 1625.2 1066.2 1631.3 1081.5 C1637.4 1096.8 1656.8 1142.6 1661.9 1152.8 C1667 1163 1678.1 1177.5 1682.2 1183.4 C1686.3 1189.3 1698.5 1209.1 1702.6 1211.9 C1706.7 1214.8 1717.9 1213.5 1723 1211.9 C1728.1 1210.3 1747.5 1200.5 1753.6 1195.6 C1759.7 1190.7 1779.5 1170.7 1784.1 1163 C1788.7 1155.3 1795.4 1130 1800 1118.2 C1804.6 1106.4 1824 1059.3 1830 1045 C1836 1030.7 1854 989 1860 975 C1866 961 1884.5 917 1890 905 C1895.5 893 1910.5 862.3 1915 855 C1919.5 847.7 1931.2 834.7 1935 832 C1938.8 829.3 1950.8 828.4 1952.6 828" stroke="#8a2ed2"/>
<path d="M1234.6 828 L1247 855 L1269.7 828 L1290 836 L1304 828 C1305.6 845.2 1316.7 968.8 1320 1000 C1323.3 1031.2 1334 1118 1337 1140 C1340 1162 1347.7 1209.5 1350 1220 C1352.3 1230.5 1358 1243.8 1359.9 1245.3 C1361.8 1246.8 1367 1242.5 1369 1235 C1371 1227.5 1377.4 1187.5 1380 1170 C1382.6 1152.5 1392 1078.7 1395 1060 C1398 1041.3 1408.1 997.9 1410.5 983.1 C1412.9 968.3 1416.2 920.9 1418.6 911.7 C1421 902.5 1431.4 894.8 1434.9 891.3 C1438.4 887.8 1449.4 879.1 1453.3 877.1 C1457.2 875.1 1469.9 873.6 1473.6 871 C1477.3 868.4 1486.9 853.2 1490 850.6 C1493.1 848 1501.2 845.3 1504.2 844.5 C1507.2 843.7 1518 843.4 1520.5 842.4 C1523 841.4 1526.8 834.5 1528.7 834.3 C1530.7 834.1 1536.4 833.4 1540 840 C1543.6 846.6 1559 885 1565 900 C1571 915 1593.5 972 1600 990 C1606.5 1008 1623.8 1063.7 1630 1080 C1636.2 1096.3 1656.7 1142.5 1661.9 1152.8 C1667.1 1163.1 1678.1 1178.5 1682.2 1183.4 C1686.3 1188.3 1698.5 1199.9 1702.6 1201.7 C1706.7 1203.5 1717.9 1203.9 1723 1201.7 C1728.1 1199.5 1747.5 1185.2 1753.6 1179.3 C1759.7 1173.4 1779.5 1151.4 1784.1 1142.6 C1788.7 1133.8 1795.4 1103 1800 1091.7 C1804.6 1080.4 1824 1042.7 1830 1030 C1836 1017.3 1854 978 1860 965 C1866 952 1884.5 911.5 1890 900 C1895.5 888.5 1910.5 857 1915 850 C1919.5 843 1931.2 832.2 1935 830 C1938.8 827.8 1950.8 828.2 1952.6 828" stroke="#3c7c5a"/>
<path d="M1234.6 828 L1247 860 L1269.7 828 L1290 833 L1302 828 C1303.4 845.2 1313.2 960.8 1316 1000 C1318.8 1039.2 1327.1 1190 1330 1220 C1332.9 1250 1342 1289.1 1345 1300 C1348 1310.9 1356.7 1331.8 1359.9 1328.8 C1363.1 1325.8 1373.8 1285.1 1376.9 1269.5 C1380.1 1253.9 1389.2 1189.5 1391.4 1172.6 C1393.6 1155.6 1396.7 1117.3 1398.6 1100 C1400.5 1082.7 1406.4 1018.2 1410 1000 C1413.6 981.8 1430.6 928.7 1434.9 917.8 C1439.2 906.9 1449.4 896.4 1453.3 891.3 C1457.2 886.2 1469.5 872.8 1473.6 866.9 C1477.7 861 1489.9 836.1 1494 832.2 C1498.1 828.3 1510.8 827.8 1514.4 828.2 C1518 828.6 1526.3 828.7 1530 836 C1533.7 843.3 1546.5 886.8 1551.1 901.5 C1555.7 916.2 1570.7 967.8 1575.6 983.1 C1580.5 998.4 1595.5 1038.5 1600 1054.4 C1604.5 1070.4 1615.9 1125.6 1621.1 1142.6 C1626.3 1159.6 1646.6 1211.9 1651.7 1224.1 C1656.8 1236.3 1668 1259.2 1672.1 1264.9 C1676.2 1270.6 1688.3 1279 1692.4 1281.2 C1696.5 1283.4 1708.7 1287.5 1712.8 1287.3 C1716.9 1287.1 1729.1 1282.4 1733.2 1279.1 C1737.3 1275.8 1749.5 1261.2 1753.6 1254.7 C1757.7 1248.2 1769.3 1225.1 1773.9 1213.9 C1778.5 1202.7 1794.4 1158 1800 1142.6 C1805.6 1127.2 1824 1075.8 1830 1060 C1836 1044.2 1854 1000 1860 985 C1866 970 1884.5 922.5 1890 910 C1895.5 897.5 1910.5 867.5 1915 860 C1919.5 852.5 1931.2 838.2 1935 835 C1938.8 831.8 1950.8 828.7 1952.6 828" stroke="#f2ee10"/>
<path d="M1234.6 828 L1247 860 L1269.7 828 L1290 833 L1302 828 C1303.6 845.2 1315.2 970.8 1318 1000 C1320.8 1029.2 1327.8 1101 1330 1120 C1332.2 1139 1338.2 1180.9 1340 1190 C1341.8 1199.1 1346.3 1210.2 1347.8 1211.4 C1349.3 1212.6 1353 1202.4 1355.1 1201.7 C1357.2 1201 1366.7 1207 1368.4 1204.1 C1370.1 1201.2 1370.7 1183 1372 1172.6 C1373.3 1162.2 1379.4 1113.3 1381.7 1100 C1384 1086.7 1392.1 1049.7 1395 1040 C1397.9 1030.3 1407.7 1015.3 1410.5 1003.5 C1413.3 991.7 1420 934.1 1422.7 921.9 C1425.4 909.7 1433.7 886.7 1437 881.2 C1440.3 875.7 1451.6 869.4 1455.3 866.9 C1459 864.4 1469.7 859.6 1473.6 856.7 C1477.5 853.8 1489.9 840.9 1494 838.3 C1498.1 835.6 1511.3 830.8 1514.4 830.2 C1517.5 829.6 1521.9 827.9 1525 832 C1528.1 836.1 1541 861 1545 871 C1549 881 1559.9 916 1565.4 932.1 C1570.9 948.2 1593.4 1012 1600 1032 C1606.6 1052 1625.1 1115.2 1631.3 1132.4 C1637.5 1149.6 1655.8 1193.1 1661.9 1203.7 C1668 1214.3 1687.3 1233.9 1692.4 1238.4 C1697.5 1242.9 1708.7 1248 1712.8 1248.6 C1716.9 1249.2 1729.1 1247 1733.2 1244.5 C1737.3 1242 1748.5 1231.2 1753.6 1224.1 C1758.7 1217 1779.5 1183.4 1784.1 1173.2 C1788.7 1163 1795.4 1134.5 1800 1122.2 C1804.6 1109.9 1824 1064.7 1830 1050 C1836 1035.3 1854 989.5 1860 975 C1866 960.5 1884.5 917 1890 905 C1895.5 893 1910.5 862.3 1915 855 C1919.5 847.7 1931.2 834.7 1935 832 C1938.8 829.3 1950.8 828.4 1952.6 828" stroke="#e01ee0"/>
<path d="M1234.6 828 L1247 857 L1269.7 828 L1290 833 L1302 828 C1303.8 855.2 1316.7 1060.8 1320 1100 C1323.3 1139.2 1332.5 1202.5 1335 1220 C1337.5 1237.5 1343 1266.9 1345 1275 C1347 1283.1 1352.9 1299.6 1355.1 1301 C1357.3 1302.4 1364.8 1296.9 1367.2 1288.9 C1369.6 1280.9 1376.9 1237.6 1379.3 1221.1 C1381.7 1204.6 1389.3 1140.3 1391.4 1124.2 C1393.5 1108.1 1397.7 1072.1 1400 1060 C1402.3 1047.9 1411.8 1015.3 1414.5 1003.5 C1417.2 991.7 1423.9 952.5 1426.8 942.3 C1429.7 932.1 1439.8 908.2 1443.1 901.5 C1446.4 894.8 1456.1 879.1 1459.4 875 C1462.7 870.9 1472.2 864.3 1475.7 860.8 C1479.2 857.3 1490.1 843.5 1494 840.4 C1497.9 837.3 1510.8 831.2 1514.4 830.2 C1518 829.2 1527.3 829 1530 830 C1532.7 831 1537.8 834.3 1540.9 840.4 C1544 846.5 1557.8 881.1 1561.3 891.3 C1564.8 901.5 1572.7 927.4 1575.6 942.3 C1578.5 957.2 1586 1019.7 1590.6 1040.7 C1595.1 1061.8 1615 1133.4 1621.1 1152.8 C1627.2 1172.2 1646.6 1222.7 1651.7 1234.3 C1656.8 1245.9 1669 1265.3 1672.1 1269 C1675.1 1272.7 1678.1 1271.8 1682.2 1271 C1686.3 1270.2 1706.7 1263.9 1712.8 1260.8 C1718.9 1257.7 1737.3 1246.1 1743.4 1240.4 C1749.5 1234.7 1768.2 1213.5 1773.9 1203.7 C1779.6 1193.9 1794.4 1157 1800 1142.6 C1805.6 1128.2 1824.2 1076.4 1830 1060 C1835.8 1043.6 1853.3 990.3 1858.3 978.3 C1863.3 966.3 1876.2 946.4 1880 940 C1883.8 933.6 1892.4 922.2 1896.6 914.6 C1900.8 907 1917.7 871.9 1922 863.7 C1926.3 855.6 1936.8 836.7 1939.9 833.1 C1943 829.5 1951.3 828.5 1952.6 828" stroke="#1414b4"/>
<path d="M1234.6 828 L1247 853 L1269.7 828 L1290 838 L1304 828 C1305.6 845.2 1316.9 966.8 1320 1000 C1323.1 1033.2 1331.2 1134.9 1335 1160 C1338.8 1185.1 1354 1244 1357.5 1251.3 C1361 1258.6 1367.2 1242.3 1369.6 1233.2 C1372 1224.1 1379.2 1177.8 1381.7 1160.5 C1384.2 1143.2 1392.5 1077.7 1395 1060 C1397.5 1042.3 1403.6 1001 1406.4 983.1 C1409.2 965.2 1419.6 893.6 1422.7 881.2 C1425.8 868.8 1433.9 861.2 1437 858.7 C1440.1 856.2 1449.6 857.3 1453.3 856.7 C1457 856.1 1470.1 854.6 1473.6 852.6 C1477.1 850.6 1484.8 838.7 1487.9 836.3 C1491 833.9 1499.7 829 1504.2 828.2 C1508.7 827.4 1529.1 827.8 1532.8 828.2 C1536.5 828.6 1537.6 826.9 1540.9 832.2 C1544.2 837.5 1559.5 868.2 1565.4 881.2 C1571.3 894.2 1595.5 950.8 1600 962.7 C1604.5 974.6 1607.8 990.2 1610.9 1000 C1614 1009.8 1626.2 1047.9 1631.3 1061.1 C1636.4 1074.3 1656.8 1122.6 1661.9 1132.4 C1667 1142.2 1678.1 1154.4 1682.2 1158.9 C1686.3 1163.4 1698.5 1175.2 1702.6 1177.3 C1706.7 1179.4 1718.9 1180.7 1723 1180.3 C1727.1 1179.9 1739.3 1176 1743.4 1173.2 C1747.5 1170.5 1759.6 1158.9 1763.7 1152.8 C1767.8 1146.7 1780.5 1120.2 1784.1 1112.1 C1787.7 1103.9 1795.1 1083.4 1800 1071.3 C1804.9 1059.2 1827.1 1004.2 1832.9 991.1 C1838.7 978 1853.2 949.5 1858.3 940.1 C1863.4 930.7 1878.7 905.7 1883.8 896.8 C1888.9 887.9 1904.7 857.9 1909.3 851 C1913.9 844.1 1925.4 830.3 1929.7 828 C1934 825.7 1950.3 828 1952.6 828" stroke="#ee7a50"/>
<path d="M1234.6 828 L1247 856 L1269.7 828 L1290 833 L1302 828 C1303.4 845.2 1313.2 962.8 1316 1000 C1318.8 1037.2 1327.1 1168 1330 1200 C1332.9 1232 1342.2 1304.2 1345 1320 C1347.8 1335.8 1354.8 1356.9 1357.5 1357.9 C1360.2 1358.9 1368.8 1343.7 1372 1330 C1375.2 1316.3 1386.1 1239.3 1389 1221.1 C1391.9 1202.9 1398.7 1163.5 1401 1148.4 C1403.3 1133.3 1409.4 1083.8 1412 1070 C1414.6 1056.2 1424.1 1020.7 1426.8 1010 C1429.5 999.3 1435.7 970.3 1439 962.7 C1442.3 955.1 1455.7 940.6 1459.4 934.1 C1463.1 927.6 1472.9 904.2 1475.7 897.5 C1478.5 890.8 1485.5 872 1487.9 866.9 C1490.3 861.8 1497.4 849.8 1500.1 846.5 C1502.8 843.2 1512 835.5 1514.4 834.3 C1516.8 833 1522 832.4 1524 834 C1526 835.6 1532.1 841.8 1534.8 850.6 C1537.5 859.4 1547.4 908.6 1551.1 921.9 C1554.8 935.1 1568 971.3 1571.5 983.1 C1575 994.9 1583.1 1026.1 1586 1040 C1588.9 1053.9 1596.2 1102.8 1600.7 1122.2 C1605.2 1141.6 1626.2 1218 1631.3 1234.3 C1636.4 1250.6 1647.2 1276.6 1651.7 1285.2 C1656.2 1293.8 1670.6 1314.8 1676.1 1319.9 C1681.6 1325.1 1701.1 1336.7 1707 1336.7 C1712.9 1336.7 1729.5 1326.1 1735.2 1319.9 C1740.9 1313.7 1758.8 1283.7 1763.7 1275.1 C1768.6 1266.5 1780.5 1242.5 1784.1 1234.3 C1787.7 1226.1 1796.9 1205.2 1800 1193.6 C1803.1 1182 1811.7 1132.4 1815 1118.5 C1818.3 1104.6 1829.8 1065 1832.9 1054.8 C1836 1044.6 1841.9 1027.1 1845.6 1016.6 C1849.3 1006.1 1865.1 962.7 1870 950 C1874.9 937.3 1890 900.5 1895 890 C1900 879.5 1915.5 851 1920 845 C1924.5 839 1936.7 831.7 1940 830 C1943.3 828.3 1951.3 828.2 1952.6 828" stroke="#a0405e"/>
<path d="M1234.6 828 L1247.4 840 L1269.7 828 L1302 828 L1306 840 C1307.6 866 1319.6 1064 1322 1100 C1324.4 1136 1328 1183 1330 1200 C1332 1217 1340 1261.8 1342 1270 C1344 1278.2 1348.6 1281 1350.2 1281.6 C1351.8 1282.2 1356.2 1279.2 1358 1276 C1359.8 1272.8 1366 1258.6 1368 1250 C1370 1241.4 1376.4 1201 1378 1190 C1379.6 1179 1382.3 1155 1384 1140 C1385.7 1125 1392.8 1057.7 1395 1040 C1397.2 1022.3 1404 979.6 1406.4 962.7 C1408.8 945.8 1416.2 883.2 1418.6 871 C1421 858.8 1429 843.7 1430.8 840.4 C1432.6 837.1 1435.8 837.9 1437 838.3 C1438.2 838.7 1441.5 843.7 1443.1 844.5 C1444.7 845.3 1451.3 845.1 1453.3 846.5 C1455.3 847.9 1461.1 859.1 1463.5 858.7 C1465.9 858.3 1475 845 1477.7 842.4 C1480.4 839.8 1487.8 832.8 1490 832.2 C1492.2 831.6 1498.1 831.4 1500.1 836.3 C1502.1 841.2 1507.8 873.5 1510.3 881.2 C1512.8 889 1521.7 908.7 1524.6 913.8 C1527.5 918.9 1536.1 927.2 1538.9 932.1 C1541.8 937 1550.4 953.5 1553.1 962.7 C1555.8 971.9 1562.5 1010.5 1565.4 1023.8 C1568.3 1037 1578.2 1081.3 1581.7 1095.2 C1585.2 1109.1 1596.8 1149.1 1600.7 1163 C1604.6 1176.9 1617 1223.7 1621.1 1234.3 C1625.2 1244.9 1637.4 1264.7 1641.5 1269 C1645.6 1273.3 1658.6 1276.5 1661.9 1277.1 C1665.2 1277.7 1670 1277.3 1674.1 1275.1 C1678.2 1272.9 1697.7 1259.8 1702.6 1254.7 C1707.5 1249.6 1718.9 1232.2 1723 1224.1 C1727.1 1215.9 1739.3 1181.8 1743.4 1173.2 C1747.5 1164.6 1758.9 1147.3 1764 1138 C1769.1 1128.7 1789 1091.7 1794.6 1080.3 C1800.2 1068.9 1815 1034.4 1820.1 1024.2 C1825.2 1014 1840.6 987.2 1845.6 978.3 C1850.6 969.4 1864.9 943.9 1870 935 C1875.1 926.1 1891.4 898.9 1896.6 889.2 C1901.8 879.5 1918.2 844.1 1922 838.2 C1925.8 832.3 1931.9 831 1935 830 C1938.1 829 1950.8 828.2 1952.6 828" stroke="#22dd22"/>
<path d="M1234.6 828 L1247 866 L1269.7 828 L1290 833 L1302 828 C1303.3 845.2 1312.4 960.7 1315 1000 C1317.6 1039.3 1325.9 1184.4 1328.4 1221 C1331 1257.6 1338.1 1344.4 1340.5 1366.3 C1342.9 1388.2 1349.6 1430.9 1352 1440 C1354.4 1449.1 1361.7 1458.4 1364.7 1457.1 C1367.7 1455.8 1378.5 1438.4 1381.7 1426.9 C1384.9 1415.4 1393 1360.3 1396.2 1342.1 C1399.4 1323.9 1410.3 1263.5 1413.2 1245.3 C1416.1 1227.1 1422.6 1171.9 1425.3 1160.5 C1428 1149.1 1437.4 1134.9 1439.8 1131.5 C1442.2 1128.1 1446.7 1129.2 1449.5 1126.6 C1452.3 1124 1464.1 1111.6 1467.5 1105.4 C1470.9 1099.2 1480.5 1073.8 1483.8 1064.6 C1487.1 1055.4 1496 1023.8 1500.1 1013.6 C1504.2 1003.4 1520.5 969.2 1524.6 962.7 C1528.7 956.2 1537.6 948.4 1540.9 948.4 C1544.2 948.4 1553.9 959.6 1557.2 962.7 C1560.5 965.8 1570.6 975.3 1573.5 979 C1576.4 982.7 1583.8 994.5 1586.5 1000 C1589.2 1005.5 1596.5 1023.8 1600 1034 C1603.5 1044.2 1614.9 1085.9 1621.1 1101.9 C1627.3 1117.9 1654.8 1180.8 1661.9 1193.6 C1669 1206.4 1687.3 1225.3 1692.4 1230.2 C1697.5 1235.1 1708.7 1241.5 1712.8 1242.5 C1716.9 1243.5 1729.1 1241.8 1733.2 1240.4 C1737.3 1239 1748.5 1233.9 1753.6 1228.2 C1758.7 1222.5 1779.5 1192 1784.1 1183.4 C1788.7 1174.8 1795.4 1154.9 1800 1142.6 C1804.6 1130.3 1824 1075.8 1830 1060 C1836 1044.2 1854 1000.5 1860 985 C1866 969.5 1885 918 1890 905 C1895 892 1906.5 862.3 1910 855 C1913.5 847.7 1920.7 834.7 1925 832 C1929.3 829.3 1949.8 828.4 1952.6 828" stroke="#22dce8"/>
<path d="M1234.6 828 L1247 858 L1269.7 828 L1290 833 L1302 828 C1303.7 855.2 1316.1 1058.3 1318.7 1100 C1321.3 1141.7 1326.5 1221.1 1328.4 1245.3 C1330.3 1269.5 1336 1326.5 1338.1 1342.1 C1340.2 1357.7 1347.1 1400.3 1349 1401.5 C1350.9 1402.7 1356 1367.4 1357.5 1354.2 C1359 1341 1362 1287.7 1363.5 1269.5 C1365 1251.3 1370.4 1189.5 1372 1172.6 C1373.6 1155.6 1378.3 1112.8 1379.3 1100 C1380.3 1087.2 1380.8 1060 1381.9 1044.2 C1383 1028.4 1388.5 958.6 1390.1 942.3 C1391.7 926 1396.4 892.4 1398.2 881.2 C1400 870 1406 835.5 1408.4 830.2 C1410.9 824.9 1415.2 828.4 1422.7 828.2 C1430.2 828 1476.9 827.4 1483.8 828.2 C1490.7 829 1490 832 1492 836.3 C1494 840.6 1500.9 862.4 1504.2 871 C1507.5 879.6 1521.5 912.7 1524.6 921.9 C1527.7 931.1 1532.1 952.5 1534.8 962.7 C1537.5 972.9 1548 1011.6 1551.1 1023.8 C1554.2 1036 1562.5 1071.1 1565.4 1085 C1568.3 1098.9 1576.9 1149.1 1580.4 1163 C1583.9 1176.9 1596.6 1212.9 1600.7 1224.1 C1604.8 1235.3 1617.8 1269.1 1621.1 1275.1 C1624.4 1281.1 1630.6 1283.4 1633.3 1284.2 C1636 1285 1644.7 1285.1 1647.6 1283.2 C1650.5 1281.3 1658.8 1270.8 1661.9 1264.9 C1665 1259 1674.5 1234.3 1678.2 1224.1 C1681.9 1213.9 1694.4 1177.3 1698.5 1163 C1702.6 1148.7 1715.7 1094.9 1718.9 1081.5 C1722.2 1068.1 1728.3 1039.6 1731 1029.3 C1733.7 1019 1742.9 988.5 1746.2 978.3 C1749.5 968.1 1760 937.1 1764.1 927.4 C1768.2 917.7 1782.2 889.6 1787 881.5 C1791.8 873.4 1807.7 851.2 1812.5 845.9 C1817.3 840.5 1821.4 829.8 1835.4 828 C1849.4 826.2 1940.9 828 1952.6 828" stroke="#dd1a1a"/>
</g>
<path d="M1369.6 786 V1484 M1664 786 V1484" stroke="#3a3a3a" stroke-width="1.6" stroke-dasharray="15 15" fill="none"/>
<g font-family="'Liberation Sans', Arial, Helvetica, sans-serif" font-size="27.5" fill="#000">
<rect x="1197.6" y="784.4" width="810" height="700.1" fill="none" stroke="#000" stroke-width="2.8"/>
<path d="M1222.4 1484.5 v-13 M1222.4 784.4 v13 M1259.2 1484.5 v-6.5 M1259.2 784.4 v6.5 M1296 1484.5 v-6.5 M1296 784.4 v6.5 M1332.8 1484.5 v-6.5 M1332.8 784.4 v6.5 M1369.6 1484.5 v-13 M1369.6 784.4 v13 M1406.4 1484.5 v-6.5 M1406.4 784.4 v6.5 M1443.2 1484.5 v-6.5 M1443.2 784.4 v6.5 M1480 1484.5 v-6.5 M1480 784.4 v6.5 M1516.8 1484.5 v-13 M1516.8 784.4 v13 M1553.6 1484.5 v-6.5 M1553.6 784.4 v6.5 M1590.4 1484.5 v-6.5 M1590.4 784.4 v6.5 M1627.2 1484.5 v-6.5 M1627.2 784.4 v6.5 M1664 1484.5 v-13 M1664 784.4 v13 M1700.8 1484.5 v-6.5 M1700.8 784.4 v6.5 M1737.6 1484.5 v-6.5 M1737.6 784.4 v6.5 M1774.4 1484.5 v-6.5 M1774.4 784.4 v6.5 M1811.2 1484.5 v-13 M1811.2 784.4 v13 M1848 1484.5 v-6.5 M1848 784.4 v6.5 M1884.8 1484.5 v-6.5 M1884.8 784.4 v6.5 M1921.6 1484.5 v-6.5 M1921.6 784.4 v6.5 M1958.4 1484.5 v-13 M1958.4 784.4 v13 M1995.2 1484.5 v-6.5 M1995.2 784.4 v6.5 M1197.6 1383.8 h15 M2007.6 1383.8 h-15 M1197.6 1244.9 h15 M2007.6 1244.9 h-15 M1197.6 1105.9 h15 M2007.6 1105.9 h-15 M1197.6 967 h15 M2007.6 967 h-15 M1197.6 828 h15 M2007.6 828 h-15 M1197.6 1453.3 h7 M2007.6 1453.3 h-7 M1197.6 1418.5 h7 M2007.6 1418.5 h-7 M1197.6 1349.1 h7 M2007.6 1349.1 h-7 M1197.6 1314.3 h7 M2007.6 1314.3 h-7 M1197.6 1279.6 h7 M2007.6 1279.6 h-7 M1197.6 1210.1 h7 M2007.6 1210.1 h-7 M1197.6 1175.4 h7 M2007.6 1175.4 h-7 M1197.6 1140.6 h7 M2007.6 1140.6 h-7 M1197.6 1071.2 h7 M2007.6 1071.2 h-7 M1197.6 1036.4 h7 M2007.6 1036.4 h-7 M1197.6 1001.7 h7 M2007.6 1001.7 h-7 M1197.6 932.2 h7 M2007.6 932.2 h-7 M1197.6 897.5 h7 M2007.6 897.5 h-7 M1197.6 862.7 h7 M2007.6 862.7 h-7 M1197.6 793.3 h7 M2007.6 793.3 h-7" stroke="#000" stroke-width="2.8" fill="none"/>
<text x="1222.4" y="1517.8" text-anchor="middle">500</text>
<text x="1369.6" y="1517.8" text-anchor="middle">1000</text>
<text x="1516.8" y="1517.8" text-anchor="middle">1500</text>
<text x="1664" y="1517.8" text-anchor="middle">2000</text>
<text x="1811.2" y="1517.8" text-anchor="middle">2500</text>
<text x="1958.4" y="1517.8" text-anchor="middle">3000</text>
<text x="1186" y="1393.8" text-anchor="end">0.80</text>
<text x="1186" y="1254.9" text-anchor="end">0.85</text>
<text x="1186" y="1115.9" text-anchor="end">0.90</text>
<text x="1186" y="977" text-anchor="end">0.95</text>
<text x="1186" y="838" text-anchor="end">1.00</text>
</g>
<text transform="translate(1109 1154.5) rotate(-90)" text-anchor="middle" font-family="'Liberation Serif', 'Times New Roman', serif" font-weight="bold" font-size="30.2">Continuum Removed Reflectance</text>
<text x="1583.4" y="1556" text-anchor="middle" font-family="'Liberation Serif', 'Times New Roman', serif" font-weight="bold" font-size="30.1">Wavelength (nm)</text>
<g font-family="'Liberation Sans', Arial, Helvetica, sans-serif" font-size="23.5">
<text x="2012.9" y="818.1" fill="#dd1a1a">1</text>
<path d="M2011.9 824.5 h15" stroke="#dd1a1a" stroke-width="1.6"/>
<text x="2012.9" y="856.2" fill="#22dd22">2</text>
<path d="M2011.9 862.6 h15" stroke="#22dd22" stroke-width="1.6"/>
<text x="2012.9" y="894.3" fill="#1414b4">3</text>
<path d="M2011.9 900.7 h15" stroke="#1414b4" stroke-width="1.6"/>
<text x="2012.9" y="933.8" fill="#f2ee10">4</text>
<path d="M2011.9 940.2 h15" stroke="#f2ee10" stroke-width="1.6"/>
<text x="2012.9" y="970.5" fill="#22dce8">5</text>
<path d="M2011.9 976.9 h15" stroke="#22dce8" stroke-width="1.6"/>
<text x="2012.9" y="1008.6" fill="#e01ee0">6</text>
<path d="M2011.9 1015 h15" stroke="#e01ee0" stroke-width="1.6"/>
<text x="2012.9" y="1043.6" fill="#a0405e">7</text>
<path d="M2011.9 1050 h15" stroke="#a0405e" stroke-width="1.6"/>
<text x="2012.9" y="1083.3" fill="#3c7c5a">8</text>
<path d="M2011.9 1089.7 h15" stroke="#3c7c5a" stroke-width="1.6"/>
<text x="2012.9" y="1119.9" fill="#8a2ed2">9</text>
<path d="M2011.9 1126.3 h15" stroke="#8a2ed2" stroke-width="1.6"/>
<text x="2012.9" y="1159.5" fill="#ee7a50">10</text>
<path d="M2011.9 1165.9 h29" stroke="#ee7a50" stroke-width="1.6"/>
<text x="2012.9" y="1196.1" fill="#7ee8d4">11</text>
<path d="M2011.9 1202.5 h29" stroke="#7ee8d4" stroke-width="1.6"/>
<text x="2012.9" y="1234.2" fill="#cc78d4">12</text>
<path d="M2011.9 1240.6 h29" stroke="#cc78d4" stroke-width="1.6"/>
</g>
<circle cx="1948" cy="1440" r="19.4" fill="#fff" stroke="#222" stroke-width="1.2"/>
<text x="1948.4" y="1452.9" text-anchor="middle" font-family="'Liberation Sans', Arial, Helvetica, sans-serif" font-weight="bold" font-size="30">c</text>
</g>
</svg>
</body></html>
